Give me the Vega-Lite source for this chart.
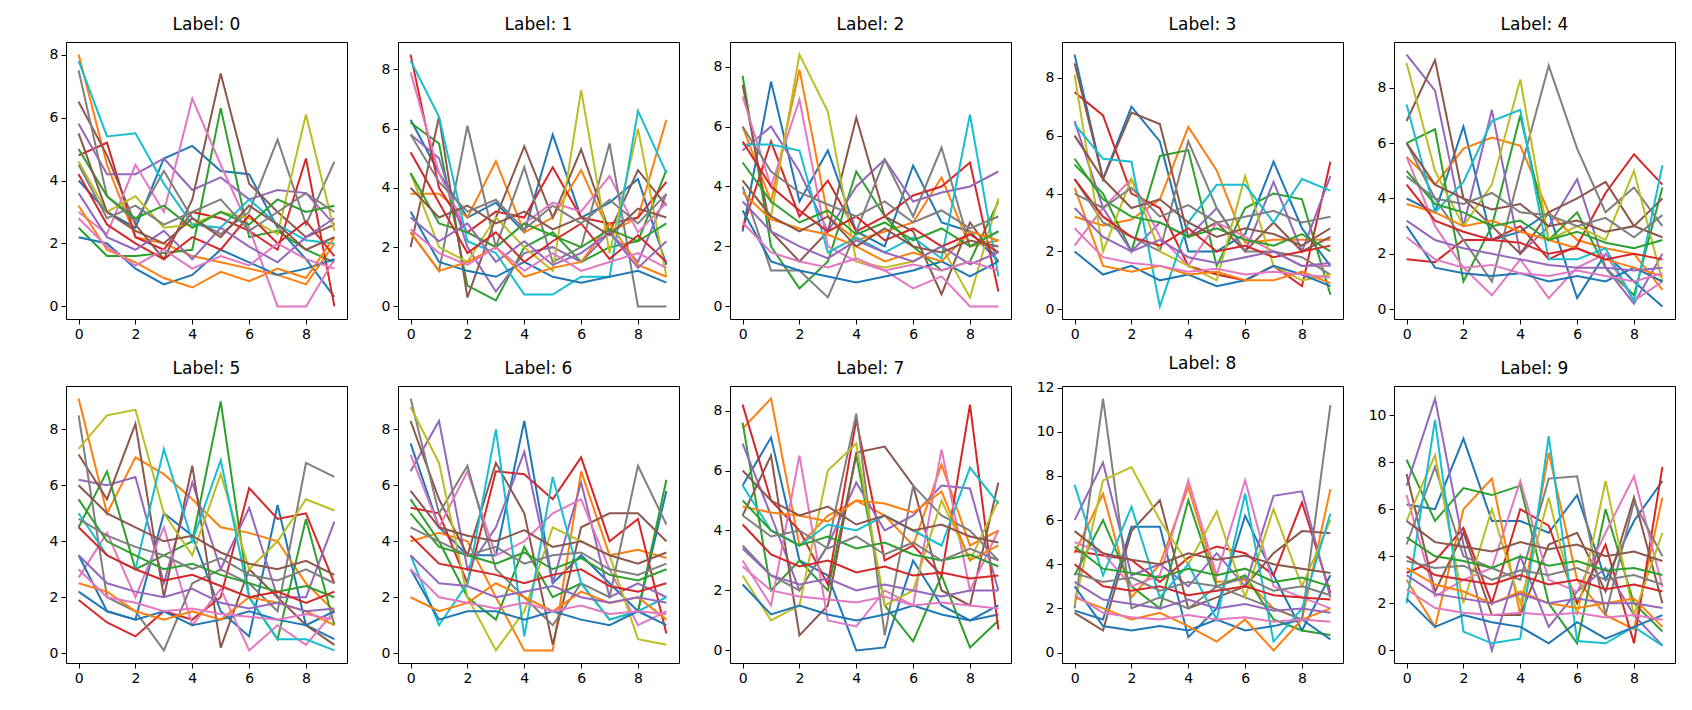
{
  "$schema": "https://vega.github.io/schema/vega-lite/v6.json",
  "background": "white",
  "padding": {"left": 48, "top": 15, "right": 5, "bottom": 5},
  "data": {"values": [
{"p":0,"s":0,"x":0,"y":4.0},{"p":0,"s":0,"x":1,"y":3.0},{"p":0,"s":0,"x":2,"y":2.5},{"p":0,"s":0,"x":3,"y":4.7},{"p":0,"s":0,"x":4,"y":5.1},{"p":0,"s":0,"x":5,"y":4.3},{"p":0,"s":0,"x":6,"y":4.2},{"p":0,"s":0,"x":7,"y":2.5},{"p":0,"s":0,"x":8,"y":1.5},{"p":0,"s":0,"x":9,"y":0.3},
{"p":0,"s":1,"x":0,"y":8.0},{"p":0,"s":1,"x":1,"y":4.5},{"p":0,"s":1,"x":2,"y":2.2},{"p":0,"s":1,"x":3,"y":2.0},{"p":0,"s":1,"x":4,"y":1.6},{"p":0,"s":1,"x":5,"y":1.4},{"p":0,"s":1,"x":6,"y":1.2},{"p":0,"s":1,"x":7,"y":1.0},{"p":0,"s":1,"x":8,"y":0.7},{"p":0,"s":1,"x":9,"y":2.0},
{"p":0,"s":2,"x":0,"y":2.5},{"p":0,"s":2,"x":1,"y":1.6},{"p":0,"s":2,"x":2,"y":1.6},{"p":0,"s":2,"x":3,"y":1.7},{"p":0,"s":2,"x":4,"y":1.8},{"p":0,"s":2,"x":5,"y":6.3},{"p":0,"s":2,"x":6,"y":2.2},{"p":0,"s":2,"x":7,"y":2.4},{"p":0,"s":2,"x":8,"y":1.8},{"p":0,"s":2,"x":9,"y":1.4},
{"p":0,"s":3,"x":0,"y":4.8},{"p":0,"s":3,"x":1,"y":5.2},{"p":0,"s":3,"x":2,"y":2.2},{"p":0,"s":3,"x":3,"y":1.8},{"p":0,"s":3,"x":4,"y":3.0},{"p":0,"s":3,"x":5,"y":2.8},{"p":0,"s":3,"x":6,"y":2.4},{"p":0,"s":3,"x":7,"y":1.8},{"p":0,"s":3,"x":8,"y":4.7},{"p":0,"s":3,"x":9,"y":0.0},
{"p":0,"s":4,"x":0,"y":5.8},{"p":0,"s":4,"x":1,"y":4.2},{"p":0,"s":4,"x":2,"y":4.2},{"p":0,"s":4,"x":3,"y":4.7},{"p":0,"s":4,"x":4,"y":3.7},{"p":0,"s":4,"x":5,"y":4.1},{"p":0,"s":4,"x":6,"y":3.4},{"p":0,"s":4,"x":7,"y":3.7},{"p":0,"s":4,"x":8,"y":3.6},{"p":0,"s":4,"x":9,"y":2.6},
{"p":0,"s":5,"x":0,"y":6.5},{"p":0,"s":5,"x":1,"y":4.8},{"p":0,"s":5,"x":2,"y":2.6},{"p":0,"s":5,"x":3,"y":1.5},{"p":0,"s":5,"x":4,"y":3.4},{"p":0,"s":5,"x":5,"y":7.4},{"p":0,"s":5,"x":6,"y":3.9},{"p":0,"s":5,"x":7,"y":3.0},{"p":0,"s":5,"x":8,"y":2.2},{"p":0,"s":5,"x":9,"y":2.6},
{"p":0,"s":6,"x":0,"y":3.0},{"p":0,"s":6,"x":1,"y":2.3},{"p":0,"s":6,"x":2,"y":4.5},{"p":0,"s":6,"x":3,"y":3.0},{"p":0,"s":6,"x":4,"y":6.6},{"p":0,"s":6,"x":5,"y":4.5},{"p":0,"s":6,"x":6,"y":2.5},{"p":0,"s":6,"x":7,"y":0.0},{"p":0,"s":6,"x":8,"y":0.0},{"p":0,"s":6,"x":9,"y":1.5},
{"p":0,"s":7,"x":0,"y":7.5},{"p":0,"s":7,"x":1,"y":3.5},{"p":0,"s":7,"x":2,"y":2.7},{"p":0,"s":7,"x":3,"y":4.3},{"p":0,"s":7,"x":4,"y":2.8},{"p":0,"s":7,"x":5,"y":2.3},{"p":0,"s":7,"x":6,"y":3.0},{"p":0,"s":7,"x":7,"y":5.3},{"p":0,"s":7,"x":8,"y":2.6},{"p":0,"s":7,"x":9,"y":4.6},
{"p":0,"s":8,"x":0,"y":4.6},{"p":0,"s":8,"x":1,"y":3.0},{"p":0,"s":8,"x":2,"y":3.5},{"p":0,"s":8,"x":3,"y":2.5},{"p":0,"s":8,"x":4,"y":2.6},{"p":0,"s":8,"x":5,"y":3.0},{"p":0,"s":8,"x":6,"y":2.8},{"p":0,"s":8,"x":7,"y":2.3},{"p":0,"s":8,"x":8,"y":6.1},{"p":0,"s":8,"x":9,"y":2.4},
{"p":0,"s":9,"x":0,"y":7.8},{"p":0,"s":9,"x":1,"y":5.4},{"p":0,"s":9,"x":2,"y":5.5},{"p":0,"s":9,"x":3,"y":3.9},{"p":0,"s":9,"x":4,"y":2.6},{"p":0,"s":9,"x":5,"y":2.5},{"p":0,"s":9,"x":6,"y":3.4},{"p":0,"s":9,"x":7,"y":2.6},{"p":0,"s":9,"x":8,"y":2.1},{"p":0,"s":9,"x":9,"y":2.0},
{"p":0,"s":10,"x":0,"y":2.2},{"p":0,"s":10,"x":1,"y":2.0},{"p":0,"s":10,"x":2,"y":1.2},{"p":0,"s":10,"x":3,"y":0.7},{"p":0,"s":10,"x":4,"y":1.0},{"p":0,"s":10,"x":5,"y":1.8},{"p":0,"s":10,"x":6,"y":1.4},{"p":0,"s":10,"x":7,"y":1.0},{"p":0,"s":10,"x":8,"y":1.2},{"p":0,"s":10,"x":9,"y":1.5},
{"p":0,"s":11,"x":0,"y":3.2},{"p":0,"s":11,"x":1,"y":1.8},{"p":0,"s":11,"x":2,"y":1.4},{"p":0,"s":11,"x":3,"y":0.9},{"p":0,"s":11,"x":4,"y":0.6},{"p":0,"s":11,"x":5,"y":1.1},{"p":0,"s":11,"x":6,"y":0.8},{"p":0,"s":11,"x":7,"y":1.2},{"p":0,"s":11,"x":8,"y":0.9},{"p":0,"s":11,"x":9,"y":2.2},
{"p":0,"s":12,"x":0,"y":5.0},{"p":0,"s":12,"x":1,"y":3.5},{"p":0,"s":12,"x":2,"y":2.8},{"p":0,"s":12,"x":3,"y":3.2},{"p":0,"s":12,"x":4,"y":2.5},{"p":0,"s":12,"x":5,"y":3.0},{"p":0,"s":12,"x":6,"y":2.6},{"p":0,"s":12,"x":7,"y":3.4},{"p":0,"s":12,"x":8,"y":3.0},{"p":0,"s":12,"x":9,"y":3.2},
{"p":0,"s":13,"x":0,"y":4.2},{"p":0,"s":13,"x":1,"y":2.6},{"p":0,"s":13,"x":2,"y":2.0},{"p":0,"s":13,"x":3,"y":1.5},{"p":0,"s":13,"x":4,"y":2.2},{"p":0,"s":13,"x":5,"y":1.8},{"p":0,"s":13,"x":6,"y":2.9},{"p":0,"s":13,"x":7,"y":2.0},{"p":0,"s":13,"x":8,"y":2.7},{"p":0,"s":13,"x":9,"y":1.6},
{"p":0,"s":14,"x":0,"y":3.6},{"p":0,"s":14,"x":1,"y":2.2},{"p":0,"s":14,"x":2,"y":1.8},{"p":0,"s":14,"x":3,"y":2.4},{"p":0,"s":14,"x":4,"y":1.5},{"p":0,"s":14,"x":5,"y":2.5},{"p":0,"s":14,"x":6,"y":1.9},{"p":0,"s":14,"x":7,"y":1.4},{"p":0,"s":14,"x":8,"y":2.2},{"p":0,"s":14,"x":9,"y":2.8},
{"p":0,"s":15,"x":0,"y":5.5},{"p":0,"s":15,"x":1,"y":3.0},{"p":0,"s":15,"x":2,"y":2.4},{"p":0,"s":15,"x":3,"y":2.0},{"p":0,"s":15,"x":4,"y":2.8},{"p":0,"s":15,"x":5,"y":2.2},{"p":0,"s":15,"x":6,"y":3.2},{"p":0,"s":15,"x":7,"y":2.6},{"p":0,"s":15,"x":8,"y":1.8},{"p":0,"s":15,"x":9,"y":2.2},
{"p":0,"s":16,"x":0,"y":2.8},{"p":0,"s":16,"x":1,"y":1.9},{"p":0,"s":16,"x":2,"y":1.3},{"p":0,"s":16,"x":3,"y":1.8},{"p":0,"s":16,"x":4,"y":1.2},{"p":0,"s":16,"x":5,"y":1.6},{"p":0,"s":16,"x":6,"y":1.3},{"p":0,"s":16,"x":7,"y":2.0},{"p":0,"s":16,"x":8,"y":1.5},{"p":0,"s":16,"x":9,"y":1.2},
{"p":0,"s":17,"x":0,"y":4.5},{"p":0,"s":17,"x":1,"y":2.8},{"p":0,"s":17,"x":2,"y":3.2},{"p":0,"s":17,"x":3,"y":2.6},{"p":0,"s":17,"x":4,"y":3.0},{"p":0,"s":17,"x":5,"y":3.4},{"p":0,"s":17,"x":6,"y":2.4},{"p":0,"s":17,"x":7,"y":3.0},{"p":0,"s":17,"x":8,"y":3.6},{"p":0,"s":17,"x":9,"y":3.0},
{"p":1,"s":0,"x":0,"y":6.3},{"p":1,"s":0,"x":1,"y":4.5},{"p":1,"s":0,"x":2,"y":3.0},{"p":1,"s":0,"x":3,"y":3.5},{"p":1,"s":0,"x":4,"y":2.5},{"p":1,"s":0,"x":5,"y":5.8},{"p":1,"s":0,"x":6,"y":3.0},{"p":1,"s":0,"x":7,"y":3.5},{"p":1,"s":0,"x":8,"y":4.3},{"p":1,"s":0,"x":9,"y":1.4},
{"p":1,"s":1,"x":0,"y":3.8},{"p":1,"s":1,"x":1,"y":3.8},{"p":1,"s":1,"x":2,"y":3.0},{"p":1,"s":1,"x":3,"y":4.9},{"p":1,"s":1,"x":4,"y":2.5},{"p":1,"s":1,"x":5,"y":3.0},{"p":1,"s":1,"x":6,"y":4.6},{"p":1,"s":1,"x":7,"y":2.5},{"p":1,"s":1,"x":8,"y":3.0},{"p":1,"s":1,"x":9,"y":6.3},
{"p":1,"s":2,"x":0,"y":6.2},{"p":1,"s":2,"x":1,"y":5.5},{"p":1,"s":2,"x":2,"y":0.7},{"p":1,"s":2,"x":3,"y":0.2},{"p":1,"s":2,"x":4,"y":2.0},{"p":1,"s":2,"x":5,"y":2.5},{"p":1,"s":2,"x":6,"y":1.5},{"p":1,"s":2,"x":7,"y":2.0},{"p":1,"s":2,"x":8,"y":2.2},{"p":1,"s":2,"x":9,"y":4.6},
{"p":1,"s":3,"x":0,"y":8.5},{"p":1,"s":3,"x":1,"y":4.0},{"p":1,"s":3,"x":2,"y":2.5},{"p":1,"s":3,"x":3,"y":3.2},{"p":1,"s":3,"x":4,"y":3.0},{"p":1,"s":3,"x":5,"y":4.7},{"p":1,"s":3,"x":6,"y":3.0},{"p":1,"s":3,"x":7,"y":2.8},{"p":1,"s":3,"x":8,"y":3.0},{"p":1,"s":3,"x":9,"y":4.2},
{"p":1,"s":4,"x":0,"y":5.8},{"p":1,"s":4,"x":1,"y":5.0},{"p":1,"s":4,"x":2,"y":2.0},{"p":1,"s":4,"x":3,"y":0.5},{"p":1,"s":4,"x":4,"y":1.8},{"p":1,"s":4,"x":5,"y":2.0},{"p":1,"s":4,"x":6,"y":1.5},{"p":1,"s":4,"x":7,"y":2.5},{"p":1,"s":4,"x":8,"y":1.5},{"p":1,"s":4,"x":9,"y":3.8},
{"p":1,"s":5,"x":0,"y":2.0},{"p":1,"s":5,"x":1,"y":6.4},{"p":1,"s":5,"x":2,"y":0.3},{"p":1,"s":5,"x":3,"y":3.0},{"p":1,"s":5,"x":4,"y":5.4},{"p":1,"s":5,"x":5,"y":3.0},{"p":1,"s":5,"x":6,"y":5.3},{"p":1,"s":5,"x":7,"y":2.5},{"p":1,"s":5,"x":8,"y":4.6},{"p":1,"s":5,"x":9,"y":3.4},
{"p":1,"s":6,"x":0,"y":7.9},{"p":1,"s":6,"x":1,"y":4.5},{"p":1,"s":6,"x":2,"y":2.5},{"p":1,"s":6,"x":3,"y":2.0},{"p":1,"s":6,"x":4,"y":2.8},{"p":1,"s":6,"x":5,"y":3.5},{"p":1,"s":6,"x":6,"y":3.2},{"p":1,"s":6,"x":7,"y":4.4},{"p":1,"s":6,"x":8,"y":2.5},{"p":1,"s":6,"x":9,"y":3.5},
{"p":1,"s":7,"x":0,"y":2.5},{"p":1,"s":7,"x":1,"y":1.2},{"p":1,"s":7,"x":2,"y":6.1},{"p":1,"s":7,"x":3,"y":2.0},{"p":1,"s":7,"x":4,"y":4.7},{"p":1,"s":7,"x":5,"y":1.5},{"p":1,"s":7,"x":6,"y":2.0},{"p":1,"s":7,"x":7,"y":5.5},{"p":1,"s":7,"x":8,"y":0.0},{"p":1,"s":7,"x":9,"y":0.0},
{"p":1,"s":8,"x":0,"y":4.5},{"p":1,"s":8,"x":1,"y":2.0},{"p":1,"s":8,"x":2,"y":1.5},{"p":1,"s":8,"x":3,"y":3.0},{"p":1,"s":8,"x":4,"y":2.0},{"p":1,"s":8,"x":5,"y":1.2},{"p":1,"s":8,"x":6,"y":7.3},{"p":1,"s":8,"x":7,"y":1.8},{"p":1,"s":8,"x":8,"y":6.0},{"p":1,"s":8,"x":9,"y":1.0},
{"p":1,"s":9,"x":0,"y":8.3},{"p":1,"s":9,"x":1,"y":6.4},{"p":1,"s":9,"x":2,"y":2.2},{"p":1,"s":9,"x":3,"y":1.8},{"p":1,"s":9,"x":4,"y":0.4},{"p":1,"s":9,"x":5,"y":0.4},{"p":1,"s":9,"x":6,"y":1.0},{"p":1,"s":9,"x":7,"y":1.0},{"p":1,"s":9,"x":8,"y":6.6},{"p":1,"s":9,"x":9,"y":4.5},
{"p":1,"s":10,"x":0,"y":3.2},{"p":1,"s":10,"x":1,"y":1.5},{"p":1,"s":10,"x":2,"y":1.2},{"p":1,"s":10,"x":3,"y":1.0},{"p":1,"s":10,"x":4,"y":1.5},{"p":1,"s":10,"x":5,"y":1.0},{"p":1,"s":10,"x":6,"y":0.8},{"p":1,"s":10,"x":7,"y":1.0},{"p":1,"s":10,"x":8,"y":1.2},{"p":1,"s":10,"x":9,"y":0.8},
{"p":1,"s":11,"x":0,"y":2.5},{"p":1,"s":11,"x":1,"y":1.2},{"p":1,"s":11,"x":2,"y":1.5},{"p":1,"s":11,"x":3,"y":2.0},{"p":1,"s":11,"x":4,"y":1.0},{"p":1,"s":11,"x":5,"y":1.3},{"p":1,"s":11,"x":6,"y":1.5},{"p":1,"s":11,"x":7,"y":2.8},{"p":1,"s":11,"x":8,"y":1.4},{"p":1,"s":11,"x":9,"y":1.0},
{"p":1,"s":12,"x":0,"y":4.5},{"p":1,"s":12,"x":1,"y":2.8},{"p":1,"s":12,"x":2,"y":2.5},{"p":1,"s":12,"x":3,"y":2.0},{"p":1,"s":12,"x":4,"y":2.8},{"p":1,"s":12,"x":5,"y":2.4},{"p":1,"s":12,"x":6,"y":2.0},{"p":1,"s":12,"x":7,"y":2.6},{"p":1,"s":12,"x":8,"y":2.2},{"p":1,"s":12,"x":9,"y":2.8},
{"p":1,"s":13,"x":0,"y":5.2},{"p":1,"s":13,"x":1,"y":3.5},{"p":1,"s":13,"x":2,"y":1.8},{"p":1,"s":13,"x":3,"y":2.5},{"p":1,"s":13,"x":4,"y":1.5},{"p":1,"s":13,"x":5,"y":2.2},{"p":1,"s":13,"x":6,"y":2.8},{"p":1,"s":13,"x":7,"y":1.6},{"p":1,"s":13,"x":8,"y":2.4},{"p":1,"s":13,"x":9,"y":1.5},
{"p":1,"s":14,"x":0,"y":3.0},{"p":1,"s":14,"x":1,"y":2.2},{"p":1,"s":14,"x":2,"y":2.8},{"p":1,"s":14,"x":3,"y":1.5},{"p":1,"s":14,"x":4,"y":2.2},{"p":1,"s":14,"x":5,"y":1.4},{"p":1,"s":14,"x":6,"y":1.8},{"p":1,"s":14,"x":7,"y":2.5},{"p":1,"s":14,"x":8,"y":1.3},{"p":1,"s":14,"x":9,"y":2.2},
{"p":1,"s":15,"x":0,"y":4.0},{"p":1,"s":15,"x":1,"y":3.0},{"p":1,"s":15,"x":2,"y":3.4},{"p":1,"s":15,"x":3,"y":2.8},{"p":1,"s":15,"x":4,"y":3.2},{"p":1,"s":15,"x":5,"y":2.6},{"p":1,"s":15,"x":6,"y":3.0},{"p":1,"s":15,"x":7,"y":2.4},{"p":1,"s":15,"x":8,"y":3.3},{"p":1,"s":15,"x":9,"y":3.0},
{"p":1,"s":16,"x":0,"y":2.6},{"p":1,"s":16,"x":1,"y":1.8},{"p":1,"s":16,"x":2,"y":1.4},{"p":1,"s":16,"x":3,"y":2.0},{"p":1,"s":16,"x":4,"y":1.2},{"p":1,"s":16,"x":5,"y":1.8},{"p":1,"s":16,"x":6,"y":1.2},{"p":1,"s":16,"x":7,"y":1.5},{"p":1,"s":16,"x":8,"y":1.8},{"p":1,"s":16,"x":9,"y":1.3},
{"p":1,"s":17,"x":0,"y":5.8},{"p":1,"s":17,"x":1,"y":4.2},{"p":1,"s":17,"x":2,"y":3.2},{"p":1,"s":17,"x":3,"y":3.6},{"p":1,"s":17,"x":4,"y":2.6},{"p":1,"s":17,"x":5,"y":3.4},{"p":1,"s":17,"x":6,"y":2.8},{"p":1,"s":17,"x":7,"y":3.6},{"p":1,"s":17,"x":8,"y":2.8},{"p":1,"s":17,"x":9,"y":3.8},
{"p":2,"s":0,"x":0,"y":2.5},{"p":2,"s":0,"x":1,"y":7.5},{"p":2,"s":0,"x":2,"y":3.5},{"p":2,"s":0,"x":3,"y":5.2},{"p":2,"s":0,"x":4,"y":2.5},{"p":2,"s":0,"x":5,"y":2.0},{"p":2,"s":0,"x":6,"y":4.7},{"p":2,"s":0,"x":7,"y":2.8},{"p":2,"s":0,"x":8,"y":2.5},{"p":2,"s":0,"x":9,"y":1.5},
{"p":2,"s":1,"x":0,"y":6.0},{"p":2,"s":1,"x":1,"y":3.5},{"p":2,"s":1,"x":2,"y":7.9},{"p":2,"s":1,"x":3,"y":3.0},{"p":2,"s":1,"x":4,"y":2.2},{"p":2,"s":1,"x":5,"y":2.5},{"p":2,"s":1,"x":6,"y":2.8},{"p":2,"s":1,"x":7,"y":4.3},{"p":2,"s":1,"x":8,"y":2.0},{"p":2,"s":1,"x":9,"y":2.2},
{"p":2,"s":2,"x":0,"y":7.7},{"p":2,"s":2,"x":1,"y":2.0},{"p":2,"s":2,"x":2,"y":0.6},{"p":2,"s":2,"x":3,"y":1.5},{"p":2,"s":2,"x":4,"y":4.5},{"p":2,"s":2,"x":5,"y":3.0},{"p":2,"s":2,"x":6,"y":2.0},{"p":2,"s":2,"x":7,"y":1.2},{"p":2,"s":2,"x":8,"y":1.5},{"p":2,"s":2,"x":9,"y":3.5},
{"p":2,"s":3,"x":0,"y":2.6},{"p":2,"s":3,"x":1,"y":5.5},{"p":2,"s":3,"x":2,"y":3.0},{"p":2,"s":3,"x":3,"y":4.2},{"p":2,"s":3,"x":4,"y":2.5},{"p":2,"s":3,"x":5,"y":3.0},{"p":2,"s":3,"x":6,"y":3.7},{"p":2,"s":3,"x":7,"y":4.0},{"p":2,"s":3,"x":8,"y":4.8},{"p":2,"s":3,"x":9,"y":0.5},
{"p":2,"s":4,"x":0,"y":5.2},{"p":2,"s":4,"x":1,"y":6.0},{"p":2,"s":4,"x":2,"y":4.5},{"p":2,"s":4,"x":3,"y":2.5},{"p":2,"s":4,"x":4,"y":4.0},{"p":2,"s":4,"x":5,"y":4.9},{"p":2,"s":4,"x":6,"y":3.5},{"p":2,"s":4,"x":7,"y":3.8},{"p":2,"s":4,"x":8,"y":4.0},{"p":2,"s":4,"x":9,"y":4.5},
{"p":2,"s":5,"x":0,"y":7.4},{"p":2,"s":5,"x":1,"y":2.5},{"p":2,"s":5,"x":2,"y":1.5},{"p":2,"s":5,"x":3,"y":2.5},{"p":2,"s":5,"x":4,"y":6.3},{"p":2,"s":5,"x":5,"y":3.0},{"p":2,"s":5,"x":6,"y":2.5},{"p":2,"s":5,"x":7,"y":0.4},{"p":2,"s":5,"x":8,"y":2.8},{"p":2,"s":5,"x":9,"y":1.5},
{"p":2,"s":6,"x":0,"y":7.0},{"p":2,"s":6,"x":1,"y":4.0},{"p":2,"s":6,"x":2,"y":6.9},{"p":2,"s":6,"x":3,"y":2.0},{"p":2,"s":6,"x":4,"y":1.5},{"p":2,"s":6,"x":5,"y":1.2},{"p":2,"s":6,"x":6,"y":0.6},{"p":2,"s":6,"x":7,"y":1.0},{"p":2,"s":6,"x":8,"y":0.0},{"p":2,"s":6,"x":9,"y":0.0},
{"p":2,"s":7,"x":0,"y":4.0},{"p":2,"s":7,"x":1,"y":1.2},{"p":2,"s":7,"x":2,"y":1.2},{"p":2,"s":7,"x":3,"y":0.3},{"p":2,"s":7,"x":4,"y":2.5},{"p":2,"s":7,"x":5,"y":4.9},{"p":2,"s":7,"x":6,"y":3.0},{"p":2,"s":7,"x":7,"y":5.3},{"p":2,"s":7,"x":8,"y":2.0},{"p":2,"s":7,"x":9,"y":2.5},
{"p":2,"s":8,"x":0,"y":4.2},{"p":2,"s":8,"x":1,"y":3.0},{"p":2,"s":8,"x":2,"y":8.4},{"p":2,"s":8,"x":3,"y":6.5},{"p":2,"s":8,"x":4,"y":1.5},{"p":2,"s":8,"x":5,"y":1.3},{"p":2,"s":8,"x":6,"y":1.5},{"p":2,"s":8,"x":7,"y":2.0},{"p":2,"s":8,"x":8,"y":0.3},{"p":2,"s":8,"x":9,"y":3.6},
{"p":2,"s":9,"x":0,"y":5.4},{"p":2,"s":9,"x":1,"y":5.4},{"p":2,"s":9,"x":2,"y":5.2},{"p":2,"s":9,"x":3,"y":1.8},{"p":2,"s":9,"x":4,"y":2.3},{"p":2,"s":9,"x":5,"y":1.8},{"p":2,"s":9,"x":6,"y":2.3},{"p":2,"s":9,"x":7,"y":1.6},{"p":2,"s":9,"x":8,"y":6.4},{"p":2,"s":9,"x":9,"y":1.0},
{"p":2,"s":10,"x":0,"y":3.2},{"p":2,"s":10,"x":1,"y":1.5},{"p":2,"s":10,"x":2,"y":1.2},{"p":2,"s":10,"x":3,"y":1.0},{"p":2,"s":10,"x":4,"y":0.8},{"p":2,"s":10,"x":5,"y":1.0},{"p":2,"s":10,"x":6,"y":1.2},{"p":2,"s":10,"x":7,"y":1.5},{"p":2,"s":10,"x":8,"y":1.0},{"p":2,"s":10,"x":9,"y":1.5},
{"p":2,"s":11,"x":0,"y":3.8},{"p":2,"s":11,"x":1,"y":2.9},{"p":2,"s":11,"x":2,"y":2.6},{"p":2,"s":11,"x":3,"y":2.4},{"p":2,"s":11,"x":4,"y":2.0},{"p":2,"s":11,"x":5,"y":1.5},{"p":2,"s":11,"x":6,"y":1.8},{"p":2,"s":11,"x":7,"y":1.5},{"p":2,"s":11,"x":8,"y":2.5},{"p":2,"s":11,"x":9,"y":2.2},
{"p":2,"s":12,"x":0,"y":4.8},{"p":2,"s":12,"x":1,"y":3.5},{"p":2,"s":12,"x":2,"y":2.8},{"p":2,"s":12,"x":3,"y":3.2},{"p":2,"s":12,"x":4,"y":2.4},{"p":2,"s":12,"x":5,"y":2.8},{"p":2,"s":12,"x":6,"y":2.2},{"p":2,"s":12,"x":7,"y":2.6},{"p":2,"s":12,"x":8,"y":2.0},{"p":2,"s":12,"x":9,"y":2.5},
{"p":2,"s":13,"x":0,"y":5.5},{"p":2,"s":13,"x":1,"y":4.0},{"p":2,"s":13,"x":2,"y":3.2},{"p":2,"s":13,"x":3,"y":2.5},{"p":2,"s":13,"x":4,"y":3.0},{"p":2,"s":13,"x":5,"y":2.2},{"p":2,"s":13,"x":6,"y":2.6},{"p":2,"s":13,"x":7,"y":2.0},{"p":2,"s":13,"x":8,"y":2.4},{"p":2,"s":13,"x":9,"y":1.8},
{"p":2,"s":14,"x":0,"y":3.5},{"p":2,"s":14,"x":1,"y":2.5},{"p":2,"s":14,"x":2,"y":2.0},{"p":2,"s":14,"x":3,"y":1.6},{"p":2,"s":14,"x":4,"y":2.2},{"p":2,"s":14,"x":5,"y":1.8},{"p":2,"s":14,"x":6,"y":1.5},{"p":2,"s":14,"x":7,"y":2.0},{"p":2,"s":14,"x":8,"y":1.4},{"p":2,"s":14,"x":9,"y":1.8},
{"p":2,"s":15,"x":0,"y":4.2},{"p":2,"s":15,"x":1,"y":3.0},{"p":2,"s":15,"x":2,"y":2.5},{"p":2,"s":15,"x":3,"y":3.0},{"p":2,"s":15,"x":4,"y":2.0},{"p":2,"s":15,"x":5,"y":2.6},{"p":2,"s":15,"x":6,"y":2.0},{"p":2,"s":15,"x":7,"y":1.8},{"p":2,"s":15,"x":8,"y":2.2},{"p":2,"s":15,"x":9,"y":2.0},
{"p":2,"s":16,"x":0,"y":2.8},{"p":2,"s":16,"x":1,"y":1.8},{"p":2,"s":16,"x":2,"y":1.5},{"p":2,"s":16,"x":3,"y":1.3},{"p":2,"s":16,"x":4,"y":1.6},{"p":2,"s":16,"x":5,"y":1.2},{"p":2,"s":16,"x":6,"y":1.4},{"p":2,"s":16,"x":7,"y":1.2},{"p":2,"s":16,"x":8,"y":1.5},{"p":2,"s":16,"x":9,"y":1.2},
{"p":2,"s":17,"x":0,"y":6.0},{"p":2,"s":17,"x":1,"y":4.5},{"p":2,"s":17,"x":2,"y":3.8},{"p":2,"s":17,"x":3,"y":3.4},{"p":2,"s":17,"x":4,"y":3.0},{"p":2,"s":17,"x":5,"y":3.5},{"p":2,"s":17,"x":6,"y":2.8},{"p":2,"s":17,"x":7,"y":3.2},{"p":2,"s":17,"x":8,"y":2.6},{"p":2,"s":17,"x":9,"y":3.0},
{"p":3,"s":0,"x":0,"y":8.8},{"p":3,"s":0,"x":1,"y":4.5},{"p":3,"s":0,"x":2,"y":7.0},{"p":3,"s":0,"x":3,"y":5.8},{"p":3,"s":0,"x":4,"y":2.0},{"p":3,"s":0,"x":5,"y":2.0},{"p":3,"s":0,"x":6,"y":2.6},{"p":3,"s":0,"x":7,"y":5.1},{"p":3,"s":0,"x":8,"y":2.8},{"p":3,"s":0,"x":9,"y":1.5},
{"p":3,"s":1,"x":0,"y":3.2},{"p":3,"s":1,"x":1,"y":2.9},{"p":3,"s":1,"x":2,"y":3.1},{"p":3,"s":1,"x":3,"y":3.8},{"p":3,"s":1,"x":4,"y":6.3},{"p":3,"s":1,"x":5,"y":4.8},{"p":3,"s":1,"x":6,"y":2.3},{"p":3,"s":1,"x":7,"y":2.4},{"p":3,"s":1,"x":8,"y":2.4},{"p":3,"s":1,"x":9,"y":2.4},
{"p":3,"s":2,"x":0,"y":5.0},{"p":3,"s":2,"x":1,"y":4.0},{"p":3,"s":2,"x":2,"y":2.0},{"p":3,"s":2,"x":3,"y":5.3},{"p":3,"s":2,"x":4,"y":5.5},{"p":3,"s":2,"x":5,"y":1.5},{"p":3,"s":2,"x":6,"y":3.5},{"p":3,"s":2,"x":7,"y":4.0},{"p":3,"s":2,"x":8,"y":3.8},{"p":3,"s":2,"x":9,"y":0.5},
{"p":3,"s":3,"x":0,"y":7.5},{"p":3,"s":3,"x":1,"y":6.7},{"p":3,"s":3,"x":2,"y":4.0},{"p":3,"s":3,"x":3,"y":3.5},{"p":3,"s":3,"x":4,"y":1.5},{"p":3,"s":3,"x":5,"y":1.2},{"p":3,"s":3,"x":6,"y":1.0},{"p":3,"s":3,"x":7,"y":1.5},{"p":3,"s":3,"x":8,"y":0.8},{"p":3,"s":3,"x":9,"y":5.1},
{"p":3,"s":4,"x":0,"y":6.5},{"p":3,"s":4,"x":1,"y":3.5},{"p":3,"s":4,"x":2,"y":2.0},{"p":3,"s":4,"x":3,"y":3.0},{"p":3,"s":4,"x":4,"y":2.5},{"p":3,"s":4,"x":5,"y":3.5},{"p":3,"s":4,"x":6,"y":2.0},{"p":3,"s":4,"x":7,"y":4.4},{"p":3,"s":4,"x":8,"y":2.0},{"p":3,"s":4,"x":9,"y":4.6},
{"p":3,"s":5,"x":0,"y":8.5},{"p":3,"s":5,"x":1,"y":4.5},{"p":3,"s":5,"x":2,"y":6.8},{"p":3,"s":5,"x":3,"y":6.4},{"p":3,"s":5,"x":4,"y":2.5},{"p":3,"s":5,"x":5,"y":3.0},{"p":3,"s":5,"x":6,"y":2.0},{"p":3,"s":5,"x":7,"y":3.0},{"p":3,"s":5,"x":8,"y":2.0},{"p":3,"s":5,"x":9,"y":2.5},
{"p":3,"s":6,"x":0,"y":2.2},{"p":3,"s":6,"x":1,"y":3.5},{"p":3,"s":6,"x":2,"y":4.5},{"p":3,"s":6,"x":3,"y":2.5},{"p":3,"s":6,"x":4,"y":1.5},{"p":3,"s":6,"x":5,"y":3.0},{"p":3,"s":6,"x":6,"y":2.5},{"p":3,"s":6,"x":7,"y":2.0},{"p":3,"s":6,"x":8,"y":1.5},{"p":3,"s":6,"x":9,"y":1.5},
{"p":3,"s":7,"x":0,"y":4.5},{"p":3,"s":7,"x":1,"y":3.0},{"p":3,"s":7,"x":2,"y":2.5},{"p":3,"s":7,"x":3,"y":2.0},{"p":3,"s":7,"x":4,"y":5.8},{"p":3,"s":7,"x":5,"y":3.5},{"p":3,"s":7,"x":6,"y":2.0},{"p":3,"s":7,"x":7,"y":2.0},{"p":3,"s":7,"x":8,"y":1.8},{"p":3,"s":7,"x":9,"y":1.2},
{"p":3,"s":8,"x":0,"y":8.1},{"p":3,"s":8,"x":1,"y":2.0},{"p":3,"s":8,"x":2,"y":4.5},{"p":3,"s":8,"x":3,"y":2.0},{"p":3,"s":8,"x":4,"y":1.5},{"p":3,"s":8,"x":5,"y":1.0},{"p":3,"s":8,"x":6,"y":4.6},{"p":3,"s":8,"x":7,"y":1.5},{"p":3,"s":8,"x":8,"y":1.0},{"p":3,"s":8,"x":9,"y":1.2},
{"p":3,"s":9,"x":0,"y":6.4},{"p":3,"s":9,"x":1,"y":5.2},{"p":3,"s":9,"x":2,"y":5.1},{"p":3,"s":9,"x":3,"y":0.1},{"p":3,"s":9,"x":4,"y":3.0},{"p":3,"s":9,"x":5,"y":4.3},{"p":3,"s":9,"x":6,"y":4.3},{"p":3,"s":9,"x":7,"y":3.0},{"p":3,"s":9,"x":8,"y":4.5},{"p":3,"s":9,"x":9,"y":4.1},
{"p":3,"s":10,"x":0,"y":2.0},{"p":3,"s":10,"x":1,"y":1.2},{"p":3,"s":10,"x":2,"y":1.5},{"p":3,"s":10,"x":3,"y":1.0},{"p":3,"s":10,"x":4,"y":1.2},{"p":3,"s":10,"x":5,"y":0.8},{"p":3,"s":10,"x":6,"y":1.0},{"p":3,"s":10,"x":7,"y":1.5},{"p":3,"s":10,"x":8,"y":1.2},{"p":3,"s":10,"x":9,"y":0.8},
{"p":3,"s":11,"x":0,"y":4.2},{"p":3,"s":11,"x":1,"y":1.5},{"p":3,"s":11,"x":2,"y":1.3},{"p":3,"s":11,"x":3,"y":1.5},{"p":3,"s":11,"x":4,"y":1.2},{"p":3,"s":11,"x":5,"y":1.3},{"p":3,"s":11,"x":6,"y":1.0},{"p":3,"s":11,"x":7,"y":1.0},{"p":3,"s":11,"x":8,"y":1.3},{"p":3,"s":11,"x":9,"y":0.9},
{"p":3,"s":12,"x":0,"y":5.2},{"p":3,"s":12,"x":1,"y":3.8},{"p":3,"s":12,"x":2,"y":3.2},{"p":3,"s":12,"x":3,"y":3.0},{"p":3,"s":12,"x":4,"y":2.5},{"p":3,"s":12,"x":5,"y":2.8},{"p":3,"s":12,"x":6,"y":2.4},{"p":3,"s":12,"x":7,"y":2.2},{"p":3,"s":12,"x":8,"y":2.6},{"p":3,"s":12,"x":9,"y":2.0},
{"p":3,"s":13,"x":0,"y":4.5},{"p":3,"s":13,"x":1,"y":3.2},{"p":3,"s":13,"x":2,"y":2.5},{"p":3,"s":13,"x":3,"y":2.2},{"p":3,"s":13,"x":4,"y":2.8},{"p":3,"s":13,"x":5,"y":2.0},{"p":3,"s":13,"x":6,"y":2.2},{"p":3,"s":13,"x":7,"y":1.8},{"p":3,"s":13,"x":8,"y":2.0},{"p":3,"s":13,"x":9,"y":2.2},
{"p":3,"s":14,"x":0,"y":3.5},{"p":3,"s":14,"x":1,"y":2.5},{"p":3,"s":14,"x":2,"y":2.0},{"p":3,"s":14,"x":3,"y":2.4},{"p":3,"s":14,"x":4,"y":1.8},{"p":3,"s":14,"x":5,"y":1.6},{"p":3,"s":14,"x":6,"y":1.8},{"p":3,"s":14,"x":7,"y":2.0},{"p":3,"s":14,"x":8,"y":1.5},{"p":3,"s":14,"x":9,"y":1.6},
{"p":3,"s":15,"x":0,"y":6.0},{"p":3,"s":15,"x":1,"y":4.5},{"p":3,"s":15,"x":2,"y":3.5},{"p":3,"s":15,"x":3,"y":3.8},{"p":3,"s":15,"x":4,"y":3.0},{"p":3,"s":15,"x":5,"y":2.5},{"p":3,"s":15,"x":6,"y":2.8},{"p":3,"s":15,"x":7,"y":2.6},{"p":3,"s":15,"x":8,"y":2.2},{"p":3,"s":15,"x":9,"y":2.8},
{"p":3,"s":16,"x":0,"y":2.8},{"p":3,"s":16,"x":1,"y":1.8},{"p":3,"s":16,"x":2,"y":1.6},{"p":3,"s":16,"x":3,"y":1.5},{"p":3,"s":16,"x":4,"y":1.3},{"p":3,"s":16,"x":5,"y":1.4},{"p":3,"s":16,"x":6,"y":1.2},{"p":3,"s":16,"x":7,"y":1.3},{"p":3,"s":16,"x":8,"y":1.2},{"p":3,"s":16,"x":9,"y":1.1},
{"p":3,"s":17,"x":0,"y":4.0},{"p":3,"s":17,"x":1,"y":3.5},{"p":3,"s":17,"x":2,"y":4.2},{"p":3,"s":17,"x":3,"y":3.2},{"p":3,"s":17,"x":4,"y":3.6},{"p":3,"s":17,"x":5,"y":3.0},{"p":3,"s":17,"x":6,"y":3.2},{"p":3,"s":17,"x":7,"y":3.4},{"p":3,"s":17,"x":8,"y":3.0},{"p":3,"s":17,"x":9,"y":3.2},
{"p":4,"s":0,"x":0,"y":4.0},{"p":4,"s":0,"x":1,"y":3.5},{"p":4,"s":0,"x":2,"y":6.6},{"p":4,"s":0,"x":3,"y":2.5},{"p":4,"s":0,"x":4,"y":2.8},{"p":4,"s":0,"x":5,"y":3.5},{"p":4,"s":0,"x":6,"y":0.4},{"p":4,"s":0,"x":7,"y":2.0},{"p":4,"s":0,"x":8,"y":1.0},{"p":4,"s":0,"x":9,"y":0.1},
{"p":4,"s":1,"x":0,"y":5.5},{"p":4,"s":1,"x":1,"y":4.5},{"p":4,"s":1,"x":2,"y":5.8},{"p":4,"s":1,"x":3,"y":6.2},{"p":4,"s":1,"x":4,"y":5.9},{"p":4,"s":1,"x":5,"y":3.5},{"p":4,"s":1,"x":6,"y":2.5},{"p":4,"s":1,"x":7,"y":2.2},{"p":4,"s":1,"x":8,"y":2.0},{"p":4,"s":1,"x":9,"y":0.7},
{"p":4,"s":2,"x":0,"y":6.0},{"p":4,"s":2,"x":1,"y":6.5},{"p":4,"s":2,"x":2,"y":1.0},{"p":4,"s":2,"x":3,"y":3.0},{"p":4,"s":2,"x":4,"y":7.0},{"p":4,"s":2,"x":5,"y":2.5},{"p":4,"s":2,"x":6,"y":3.5},{"p":4,"s":2,"x":7,"y":1.5},{"p":4,"s":2,"x":8,"y":0.5},{"p":4,"s":2,"x":9,"y":4.4},
{"p":4,"s":3,"x":0,"y":1.8},{"p":4,"s":3,"x":1,"y":1.7},{"p":4,"s":3,"x":2,"y":2.5},{"p":4,"s":3,"x":3,"y":2.5},{"p":4,"s":3,"x":4,"y":3.0},{"p":4,"s":3,"x":5,"y":1.8},{"p":4,"s":3,"x":6,"y":2.3},{"p":4,"s":3,"x":7,"y":4.2},{"p":4,"s":3,"x":8,"y":5.6},{"p":4,"s":3,"x":9,"y":4.5},
{"p":4,"s":4,"x":0,"y":9.2},{"p":4,"s":4,"x":1,"y":7.9},{"p":4,"s":4,"x":2,"y":3.0},{"p":4,"s":4,"x":3,"y":7.2},{"p":4,"s":4,"x":4,"y":2.0},{"p":4,"s":4,"x":5,"y":3.0},{"p":4,"s":4,"x":6,"y":4.7},{"p":4,"s":4,"x":7,"y":1.5},{"p":4,"s":4,"x":8,"y":0.2},{"p":4,"s":4,"x":9,"y":2.0},
{"p":4,"s":5,"x":0,"y":6.8},{"p":4,"s":5,"x":1,"y":9.0},{"p":4,"s":5,"x":2,"y":4.0},{"p":4,"s":5,"x":3,"y":3.0},{"p":4,"s":5,"x":4,"y":2.0},{"p":4,"s":5,"x":5,"y":3.5},{"p":4,"s":5,"x":6,"y":4.0},{"p":4,"s":5,"x":7,"y":4.6},{"p":4,"s":5,"x":8,"y":3.0},{"p":4,"s":5,"x":9,"y":4.0},
{"p":4,"s":6,"x":0,"y":5.5},{"p":4,"s":6,"x":1,"y":3.0},{"p":4,"s":6,"x":2,"y":1.5},{"p":4,"s":6,"x":3,"y":0.5},{"p":4,"s":6,"x":4,"y":1.8},{"p":4,"s":6,"x":5,"y":0.4},{"p":4,"s":6,"x":6,"y":1.5},{"p":4,"s":6,"x":7,"y":2.0},{"p":4,"s":6,"x":8,"y":0.3},{"p":4,"s":6,"x":9,"y":1.0},
{"p":4,"s":7,"x":0,"y":6.0},{"p":4,"s":7,"x":1,"y":4.0},{"p":4,"s":7,"x":2,"y":2.5},{"p":4,"s":7,"x":3,"y":1.0},{"p":4,"s":7,"x":4,"y":5.0},{"p":4,"s":7,"x":5,"y":8.8},{"p":4,"s":7,"x":6,"y":5.8},{"p":4,"s":7,"x":7,"y":3.5},{"p":4,"s":7,"x":8,"y":4.4},{"p":4,"s":7,"x":9,"y":3.0},
{"p":4,"s":8,"x":0,"y":8.9},{"p":4,"s":8,"x":1,"y":5.0},{"p":4,"s":8,"x":2,"y":3.0},{"p":4,"s":8,"x":3,"y":4.5},{"p":4,"s":8,"x":4,"y":8.3},{"p":4,"s":8,"x":5,"y":2.5},{"p":4,"s":8,"x":6,"y":3.0},{"p":4,"s":8,"x":7,"y":2.5},{"p":4,"s":8,"x":8,"y":5.0},{"p":4,"s":8,"x":9,"y":1.0},
{"p":4,"s":9,"x":0,"y":7.4},{"p":4,"s":9,"x":1,"y":3.5},{"p":4,"s":9,"x":2,"y":4.6},{"p":4,"s":9,"x":3,"y":6.8},{"p":4,"s":9,"x":4,"y":7.2},{"p":4,"s":9,"x":5,"y":1.8},{"p":4,"s":9,"x":6,"y":1.8},{"p":4,"s":9,"x":7,"y":2.2},{"p":4,"s":9,"x":8,"y":0.3},{"p":4,"s":9,"x":9,"y":5.2},
{"p":4,"s":10,"x":0,"y":3.0},{"p":4,"s":10,"x":1,"y":1.5},{"p":4,"s":10,"x":2,"y":1.3},{"p":4,"s":10,"x":3,"y":1.2},{"p":4,"s":10,"x":4,"y":1.3},{"p":4,"s":10,"x":5,"y":1.0},{"p":4,"s":10,"x":6,"y":1.2},{"p":4,"s":10,"x":7,"y":1.0},{"p":4,"s":10,"x":8,"y":1.5},{"p":4,"s":10,"x":9,"y":1.0},
{"p":4,"s":11,"x":0,"y":3.8},{"p":4,"s":11,"x":1,"y":3.5},{"p":4,"s":11,"x":2,"y":3.0},{"p":4,"s":11,"x":3,"y":3.2},{"p":4,"s":11,"x":4,"y":2.8},{"p":4,"s":11,"x":5,"y":2.5},{"p":4,"s":11,"x":6,"y":2.2},{"p":4,"s":11,"x":7,"y":1.8},{"p":4,"s":11,"x":8,"y":1.5},{"p":4,"s":11,"x":9,"y":1.2},
{"p":4,"s":12,"x":0,"y":5.0},{"p":4,"s":12,"x":1,"y":3.8},{"p":4,"s":12,"x":2,"y":3.5},{"p":4,"s":12,"x":3,"y":3.0},{"p":4,"s":12,"x":4,"y":3.2},{"p":4,"s":12,"x":5,"y":2.5},{"p":4,"s":12,"x":6,"y":2.8},{"p":4,"s":12,"x":7,"y":2.4},{"p":4,"s":12,"x":8,"y":2.2},{"p":4,"s":12,"x":9,"y":2.5},
{"p":4,"s":13,"x":0,"y":4.5},{"p":4,"s":13,"x":1,"y":3.2},{"p":4,"s":13,"x":2,"y":2.8},{"p":4,"s":13,"x":3,"y":2.5},{"p":4,"s":13,"x":4,"y":2.4},{"p":4,"s":13,"x":5,"y":2.0},{"p":4,"s":13,"x":6,"y":2.2},{"p":4,"s":13,"x":7,"y":1.8},{"p":4,"s":13,"x":8,"y":2.0},{"p":4,"s":13,"x":9,"y":1.8},
{"p":4,"s":14,"x":0,"y":3.2},{"p":4,"s":14,"x":1,"y":2.5},{"p":4,"s":14,"x":2,"y":2.2},{"p":4,"s":14,"x":3,"y":2.0},{"p":4,"s":14,"x":4,"y":1.8},{"p":4,"s":14,"x":5,"y":1.6},{"p":4,"s":14,"x":6,"y":1.5},{"p":4,"s":14,"x":7,"y":1.5},{"p":4,"s":14,"x":8,"y":1.4},{"p":4,"s":14,"x":9,"y":1.5},
{"p":4,"s":15,"x":0,"y":6.0},{"p":4,"s":15,"x":1,"y":4.5},{"p":4,"s":15,"x":2,"y":4.0},{"p":4,"s":15,"x":3,"y":3.6},{"p":4,"s":15,"x":4,"y":3.8},{"p":4,"s":15,"x":5,"y":3.0},{"p":4,"s":15,"x":6,"y":3.2},{"p":4,"s":15,"x":7,"y":2.8},{"p":4,"s":15,"x":8,"y":3.0},{"p":4,"s":15,"x":9,"y":2.6},
{"p":4,"s":16,"x":0,"y":2.6},{"p":4,"s":16,"x":1,"y":1.8},{"p":4,"s":16,"x":2,"y":1.5},{"p":4,"s":16,"x":3,"y":1.6},{"p":4,"s":16,"x":4,"y":1.3},{"p":4,"s":16,"x":5,"y":1.2},{"p":4,"s":16,"x":6,"y":1.4},{"p":4,"s":16,"x":7,"y":1.2},{"p":4,"s":16,"x":8,"y":1.0},{"p":4,"s":16,"x":9,"y":1.3},
{"p":4,"s":17,"x":0,"y":4.8},{"p":4,"s":17,"x":1,"y":4.0},{"p":4,"s":17,"x":2,"y":3.8},{"p":4,"s":17,"x":3,"y":4.2},{"p":4,"s":17,"x":4,"y":3.5},{"p":4,"s":17,"x":5,"y":3.4},{"p":4,"s":17,"x":6,"y":3.0},{"p":4,"s":17,"x":7,"y":3.3},{"p":4,"s":17,"x":8,"y":2.6},{"p":4,"s":17,"x":9,"y":3.4},
{"p":5,"s":0,"x":0,"y":2.2},{"p":5,"s":0,"x":1,"y":1.5},{"p":5,"s":0,"x":2,"y":1.2},{"p":5,"s":0,"x":3,"y":5.0},{"p":5,"s":0,"x":4,"y":4.2},{"p":5,"s":0,"x":5,"y":1.5},{"p":5,"s":0,"x":6,"y":0.6},{"p":5,"s":0,"x":7,"y":5.3},{"p":5,"s":0,"x":8,"y":1.0},{"p":5,"s":0,"x":9,"y":0.5},
{"p":5,"s":1,"x":0,"y":9.1},{"p":5,"s":1,"x":1,"y":5.0},{"p":5,"s":1,"x":2,"y":7.0},{"p":5,"s":1,"x":3,"y":6.4},{"p":5,"s":1,"x":4,"y":5.5},{"p":5,"s":1,"x":5,"y":4.5},{"p":5,"s":1,"x":6,"y":4.3},{"p":5,"s":1,"x":7,"y":4.0},{"p":5,"s":1,"x":8,"y":2.5},{"p":5,"s":1,"x":9,"y":1.5},
{"p":5,"s":2,"x":0,"y":4.5},{"p":5,"s":2,"x":1,"y":6.5},{"p":5,"s":2,"x":2,"y":3.0},{"p":5,"s":2,"x":3,"y":3.5},{"p":5,"s":2,"x":4,"y":4.0},{"p":5,"s":2,"x":5,"y":9.0},{"p":5,"s":2,"x":6,"y":2.0},{"p":5,"s":2,"x":7,"y":0.5},{"p":5,"s":2,"x":8,"y":4.8},{"p":5,"s":2,"x":9,"y":1.0},
{"p":5,"s":3,"x":0,"y":1.9},{"p":5,"s":3,"x":1,"y":1.1},{"p":5,"s":3,"x":2,"y":0.6},{"p":5,"s":3,"x":3,"y":1.5},{"p":5,"s":3,"x":4,"y":1.2},{"p":5,"s":3,"x":5,"y":2.0},{"p":5,"s":3,"x":6,"y":5.9},{"p":5,"s":3,"x":7,"y":4.8},{"p":5,"s":3,"x":8,"y":5.0},{"p":5,"s":3,"x":9,"y":2.5},
{"p":5,"s":4,"x":0,"y":6.2},{"p":5,"s":4,"x":1,"y":6.0},{"p":5,"s":4,"x":2,"y":6.3},{"p":5,"s":4,"x":3,"y":2.5},{"p":5,"s":4,"x":4,"y":6.1},{"p":5,"s":4,"x":5,"y":3.0},{"p":5,"s":4,"x":6,"y":5.2},{"p":5,"s":4,"x":7,"y":2.0},{"p":5,"s":4,"x":8,"y":2.0},{"p":5,"s":4,"x":9,"y":4.7},
{"p":5,"s":5,"x":0,"y":7.1},{"p":5,"s":5,"x":1,"y":5.5},{"p":5,"s":5,"x":2,"y":8.2},{"p":5,"s":5,"x":3,"y":2.0},{"p":5,"s":5,"x":4,"y":6.7},{"p":5,"s":5,"x":5,"y":0.2},{"p":5,"s":5,"x":6,"y":3.0},{"p":5,"s":5,"x":7,"y":2.0},{"p":5,"s":5,"x":8,"y":1.0},{"p":5,"s":5,"x":9,"y":0.3},
{"p":5,"s":6,"x":0,"y":2.7},{"p":5,"s":6,"x":1,"y":4.3},{"p":5,"s":6,"x":2,"y":2.0},{"p":5,"s":6,"x":3,"y":4.5},{"p":5,"s":6,"x":4,"y":1.0},{"p":5,"s":6,"x":5,"y":2.3},{"p":5,"s":6,"x":6,"y":0.1},{"p":5,"s":6,"x":7,"y":1.0},{"p":5,"s":6,"x":8,"y":0.3},{"p":5,"s":6,"x":9,"y":1.5},
{"p":5,"s":7,"x":0,"y":8.5},{"p":5,"s":7,"x":1,"y":2.0},{"p":5,"s":7,"x":2,"y":1.5},{"p":5,"s":7,"x":3,"y":0.1},{"p":5,"s":7,"x":4,"y":2.5},{"p":5,"s":7,"x":5,"y":3.0},{"p":5,"s":7,"x":6,"y":2.5},{"p":5,"s":7,"x":7,"y":1.5},{"p":5,"s":7,"x":8,"y":6.8},{"p":5,"s":7,"x":9,"y":6.3},
{"p":5,"s":8,"x":0,"y":7.3},{"p":5,"s":8,"x":1,"y":8.5},{"p":5,"s":8,"x":2,"y":8.7},{"p":5,"s":8,"x":3,"y":5.0},{"p":5,"s":8,"x":4,"y":3.5},{"p":5,"s":8,"x":5,"y":6.4},{"p":5,"s":8,"x":6,"y":3.0},{"p":5,"s":8,"x":7,"y":4.0},{"p":5,"s":8,"x":8,"y":5.5},{"p":5,"s":8,"x":9,"y":5.1},
{"p":5,"s":9,"x":0,"y":5.0},{"p":5,"s":9,"x":1,"y":3.5},{"p":5,"s":9,"x":2,"y":3.0},{"p":5,"s":9,"x":3,"y":7.3},{"p":5,"s":9,"x":4,"y":4.0},{"p":5,"s":9,"x":5,"y":6.9},{"p":5,"s":9,"x":6,"y":2.0},{"p":5,"s":9,"x":7,"y":0.5},{"p":5,"s":9,"x":8,"y":0.5},{"p":5,"s":9,"x":9,"y":0.1},
{"p":5,"s":10,"x":0,"y":3.5},{"p":5,"s":10,"x":1,"y":1.5},{"p":5,"s":10,"x":2,"y":1.2},{"p":5,"s":10,"x":3,"y":1.5},{"p":5,"s":10,"x":4,"y":1.0},{"p":5,"s":10,"x":5,"y":1.2},{"p":5,"s":10,"x":6,"y":1.5},{"p":5,"s":10,"x":7,"y":1.2},{"p":5,"s":10,"x":8,"y":1.0},{"p":5,"s":10,"x":9,"y":1.5},
{"p":5,"s":11,"x":0,"y":2.5},{"p":5,"s":11,"x":1,"y":2.2},{"p":5,"s":11,"x":2,"y":1.5},{"p":5,"s":11,"x":3,"y":1.2},{"p":5,"s":11,"x":4,"y":1.5},{"p":5,"s":11,"x":5,"y":1.2},{"p":5,"s":11,"x":6,"y":2.0},{"p":5,"s":11,"x":7,"y":1.8},{"p":5,"s":11,"x":8,"y":1.5},{"p":5,"s":11,"x":9,"y":1.0},
{"p":5,"s":12,"x":0,"y":5.5},{"p":5,"s":12,"x":1,"y":4.0},{"p":5,"s":12,"x":2,"y":3.5},{"p":5,"s":12,"x":3,"y":3.0},{"p":5,"s":12,"x":4,"y":3.2},{"p":5,"s":12,"x":5,"y":2.8},{"p":5,"s":12,"x":6,"y":2.5},{"p":5,"s":12,"x":7,"y":2.2},{"p":5,"s":12,"x":8,"y":2.4},{"p":5,"s":12,"x":9,"y":2.0},
{"p":5,"s":13,"x":0,"y":4.5},{"p":5,"s":13,"x":1,"y":3.5},{"p":5,"s":13,"x":2,"y":3.0},{"p":5,"s":13,"x":3,"y":2.6},{"p":5,"s":13,"x":4,"y":2.8},{"p":5,"s":13,"x":5,"y":2.4},{"p":5,"s":13,"x":6,"y":2.0},{"p":5,"s":13,"x":7,"y":2.2},{"p":5,"s":13,"x":8,"y":1.8},{"p":5,"s":13,"x":9,"y":2.2},
{"p":5,"s":14,"x":0,"y":3.5},{"p":5,"s":14,"x":1,"y":2.5},{"p":5,"s":14,"x":2,"y":2.2},{"p":5,"s":14,"x":3,"y":2.0},{"p":5,"s":14,"x":4,"y":2.3},{"p":5,"s":14,"x":5,"y":1.8},{"p":5,"s":14,"x":6,"y":1.6},{"p":5,"s":14,"x":7,"y":1.8},{"p":5,"s":14,"x":8,"y":1.5},{"p":5,"s":14,"x":9,"y":1.6},
{"p":5,"s":15,"x":0,"y":6.0},{"p":5,"s":15,"x":1,"y":5.0},{"p":5,"s":15,"x":2,"y":4.5},{"p":5,"s":15,"x":3,"y":4.0},{"p":5,"s":15,"x":4,"y":4.2},{"p":5,"s":15,"x":5,"y":3.6},{"p":5,"s":15,"x":6,"y":3.2},{"p":5,"s":15,"x":7,"y":3.0},{"p":5,"s":15,"x":8,"y":3.3},{"p":5,"s":15,"x":9,"y":2.8},
{"p":5,"s":16,"x":0,"y":3.0},{"p":5,"s":16,"x":1,"y":2.0},{"p":5,"s":16,"x":2,"y":1.8},{"p":5,"s":16,"x":3,"y":1.5},{"p":5,"s":16,"x":4,"y":1.6},{"p":5,"s":16,"x":5,"y":1.4},{"p":5,"s":16,"x":6,"y":1.3},{"p":5,"s":16,"x":7,"y":1.2},{"p":5,"s":16,"x":8,"y":1.4},{"p":5,"s":16,"x":9,"y":1.2},
{"p":5,"s":17,"x":0,"y":4.8},{"p":5,"s":17,"x":1,"y":4.2},{"p":5,"s":17,"x":2,"y":3.8},{"p":5,"s":17,"x":3,"y":3.5},{"p":5,"s":17,"x":4,"y":3.0},{"p":5,"s":17,"x":5,"y":3.4},{"p":5,"s":17,"x":6,"y":2.8},{"p":5,"s":17,"x":7,"y":2.6},{"p":5,"s":17,"x":8,"y":3.0},{"p":5,"s":17,"x":9,"y":2.5},
{"p":6,"s":0,"x":0,"y":7.5},{"p":6,"s":0,"x":1,"y":4.5},{"p":6,"s":0,"x":2,"y":3.5},{"p":6,"s":0,"x":3,"y":3.5},{"p":6,"s":0,"x":4,"y":8.3},{"p":6,"s":0,"x":5,"y":2.5},{"p":6,"s":0,"x":6,"y":3.5},{"p":6,"s":0,"x":7,"y":2.5},{"p":6,"s":0,"x":8,"y":1.5},{"p":6,"s":0,"x":9,"y":5.8},
{"p":6,"s":1,"x":0,"y":4.0},{"p":6,"s":1,"x":1,"y":4.3},{"p":6,"s":1,"x":2,"y":4.0},{"p":6,"s":1,"x":3,"y":2.0},{"p":6,"s":1,"x":4,"y":0.1},{"p":6,"s":1,"x":5,"y":0.1},{"p":6,"s":1,"x":6,"y":6.5},{"p":6,"s":1,"x":7,"y":3.5},{"p":6,"s":1,"x":8,"y":3.7},{"p":6,"s":1,"x":9,"y":3.4},
{"p":6,"s":2,"x":0,"y":5.5},{"p":6,"s":2,"x":1,"y":4.0},{"p":6,"s":2,"x":2,"y":2.0},{"p":6,"s":2,"x":3,"y":1.2},{"p":6,"s":2,"x":4,"y":3.8},{"p":6,"s":2,"x":5,"y":2.0},{"p":6,"s":2,"x":6,"y":2.5},{"p":6,"s":2,"x":7,"y":1.2},{"p":6,"s":2,"x":8,"y":1.5},{"p":6,"s":2,"x":9,"y":6.2},
{"p":6,"s":3,"x":0,"y":5.2},{"p":6,"s":3,"x":1,"y":5.0},{"p":6,"s":3,"x":2,"y":2.5},{"p":6,"s":3,"x":3,"y":6.5},{"p":6,"s":3,"x":4,"y":6.4},{"p":6,"s":3,"x":5,"y":5.5},{"p":6,"s":3,"x":6,"y":7.0},{"p":6,"s":3,"x":7,"y":4.0},{"p":6,"s":3,"x":8,"y":4.8},{"p":6,"s":3,"x":9,"y":0.7},
{"p":6,"s":4,"x":0,"y":6.5},{"p":6,"s":4,"x":1,"y":8.3},{"p":6,"s":4,"x":2,"y":3.0},{"p":6,"s":4,"x":3,"y":4.5},{"p":6,"s":4,"x":4,"y":7.2},{"p":6,"s":4,"x":5,"y":2.5},{"p":6,"s":4,"x":6,"y":6.1},{"p":6,"s":4,"x":7,"y":2.0},{"p":6,"s":4,"x":8,"y":2.5},{"p":6,"s":4,"x":9,"y":2.0},
{"p":6,"s":5,"x":0,"y":8.3},{"p":6,"s":5,"x":1,"y":5.5},{"p":6,"s":5,"x":2,"y":3.5},{"p":6,"s":5,"x":3,"y":6.8},{"p":6,"s":5,"x":4,"y":5.0},{"p":6,"s":5,"x":5,"y":0.3},{"p":6,"s":5,"x":6,"y":4.5},{"p":6,"s":5,"x":7,"y":5.0},{"p":6,"s":5,"x":8,"y":5.0},{"p":6,"s":5,"x":9,"y":4.0},
{"p":6,"s":6,"x":0,"y":7.1},{"p":6,"s":6,"x":1,"y":4.5},{"p":6,"s":6,"x":2,"y":6.5},{"p":6,"s":6,"x":3,"y":3.5},{"p":6,"s":6,"x":4,"y":4.0},{"p":6,"s":6,"x":5,"y":5.0},{"p":6,"s":6,"x":6,"y":5.5},{"p":6,"s":6,"x":7,"y":3.0},{"p":6,"s":6,"x":8,"y":1.0},{"p":6,"s":6,"x":9,"y":1.5},
{"p":6,"s":7,"x":0,"y":9.1},{"p":6,"s":7,"x":1,"y":5.0},{"p":6,"s":7,"x":2,"y":6.7},{"p":6,"s":7,"x":3,"y":3.0},{"p":6,"s":7,"x":4,"y":2.0},{"p":6,"s":7,"x":5,"y":1.0},{"p":6,"s":7,"x":6,"y":2.5},{"p":6,"s":7,"x":7,"y":2.0},{"p":6,"s":7,"x":8,"y":6.7},{"p":6,"s":7,"x":9,"y":4.6},
{"p":6,"s":8,"x":0,"y":8.8},{"p":6,"s":8,"x":1,"y":6.8},{"p":6,"s":8,"x":2,"y":2.0},{"p":6,"s":8,"x":3,"y":0.1},{"p":6,"s":8,"x":4,"y":1.5},{"p":6,"s":8,"x":5,"y":4.5},{"p":6,"s":8,"x":6,"y":4.0},{"p":6,"s":8,"x":7,"y":3.5},{"p":6,"s":8,"x":8,"y":0.5},{"p":6,"s":8,"x":9,"y":0.3},
{"p":6,"s":9,"x":0,"y":3.5},{"p":6,"s":9,"x":1,"y":1.0},{"p":6,"s":9,"x":2,"y":2.5},{"p":6,"s":9,"x":3,"y":8.0},{"p":6,"s":9,"x":4,"y":0.6},{"p":6,"s":9,"x":5,"y":6.3},{"p":6,"s":9,"x":6,"y":2.5},{"p":6,"s":9,"x":7,"y":1.2},{"p":6,"s":9,"x":8,"y":1.5},{"p":6,"s":9,"x":9,"y":2.0},
{"p":6,"s":10,"x":0,"y":3.0},{"p":6,"s":10,"x":1,"y":1.2},{"p":6,"s":10,"x":2,"y":1.5},{"p":6,"s":10,"x":3,"y":1.5},{"p":6,"s":10,"x":4,"y":1.2},{"p":6,"s":10,"x":5,"y":1.5},{"p":6,"s":10,"x":6,"y":1.2},{"p":6,"s":10,"x":7,"y":1.0},{"p":6,"s":10,"x":8,"y":1.5},{"p":6,"s":10,"x":9,"y":1.0},
{"p":6,"s":11,"x":0,"y":2.0},{"p":6,"s":11,"x":1,"y":1.5},{"p":6,"s":11,"x":2,"y":1.8},{"p":6,"s":11,"x":3,"y":2.5},{"p":6,"s":11,"x":4,"y":2.0},{"p":6,"s":11,"x":5,"y":1.5},{"p":6,"s":11,"x":6,"y":2.2},{"p":6,"s":11,"x":7,"y":1.8},{"p":6,"s":11,"x":8,"y":2.0},{"p":6,"s":11,"x":9,"y":1.2},
{"p":6,"s":12,"x":0,"y":5.0},{"p":6,"s":12,"x":1,"y":3.8},{"p":6,"s":12,"x":2,"y":3.5},{"p":6,"s":12,"x":3,"y":3.2},{"p":6,"s":12,"x":4,"y":3.6},{"p":6,"s":12,"x":5,"y":3.0},{"p":6,"s":12,"x":6,"y":3.4},{"p":6,"s":12,"x":7,"y":2.8},{"p":6,"s":12,"x":8,"y":2.6},{"p":6,"s":12,"x":9,"y":3.0},
{"p":6,"s":13,"x":0,"y":4.2},{"p":6,"s":13,"x":1,"y":3.2},{"p":6,"s":13,"x":2,"y":3.0},{"p":6,"s":13,"x":3,"y":2.8},{"p":6,"s":13,"x":4,"y":2.5},{"p":6,"s":13,"x":5,"y":2.8},{"p":6,"s":13,"x":6,"y":3.0},{"p":6,"s":13,"x":7,"y":2.4},{"p":6,"s":13,"x":8,"y":2.2},{"p":6,"s":13,"x":9,"y":2.5},
{"p":6,"s":14,"x":0,"y":3.5},{"p":6,"s":14,"x":1,"y":2.5},{"p":6,"s":14,"x":2,"y":2.4},{"p":6,"s":14,"x":3,"y":2.0},{"p":6,"s":14,"x":4,"y":2.2},{"p":6,"s":14,"x":5,"y":2.4},{"p":6,"s":14,"x":6,"y":2.0},{"p":6,"s":14,"x":7,"y":1.8},{"p":6,"s":14,"x":8,"y":2.0},{"p":6,"s":14,"x":9,"y":1.8},
{"p":6,"s":15,"x":0,"y":5.8},{"p":6,"s":15,"x":1,"y":4.5},{"p":6,"s":15,"x":2,"y":4.2},{"p":6,"s":15,"x":3,"y":4.0},{"p":6,"s":15,"x":4,"y":4.4},{"p":6,"s":15,"x":5,"y":3.8},{"p":6,"s":15,"x":6,"y":4.0},{"p":6,"s":15,"x":7,"y":3.5},{"p":6,"s":15,"x":8,"y":3.2},{"p":6,"s":15,"x":9,"y":3.6},
{"p":6,"s":16,"x":0,"y":3.0},{"p":6,"s":16,"x":1,"y":2.0},{"p":6,"s":16,"x":2,"y":1.8},{"p":6,"s":16,"x":3,"y":1.6},{"p":6,"s":16,"x":4,"y":1.8},{"p":6,"s":16,"x":5,"y":1.5},{"p":6,"s":16,"x":6,"y":1.7},{"p":6,"s":16,"x":7,"y":1.4},{"p":6,"s":16,"x":8,"y":1.5},{"p":6,"s":16,"x":9,"y":1.4},
{"p":6,"s":17,"x":0,"y":4.5},{"p":6,"s":17,"x":1,"y":4.0},{"p":6,"s":17,"x":2,"y":3.5},{"p":6,"s":17,"x":3,"y":3.8},{"p":6,"s":17,"x":4,"y":3.2},{"p":6,"s":17,"x":5,"y":3.5},{"p":6,"s":17,"x":6,"y":3.6},{"p":6,"s":17,"x":7,"y":3.0},{"p":6,"s":17,"x":8,"y":2.8},{"p":6,"s":17,"x":9,"y":3.2},
{"p":7,"s":0,"x":0,"y":5.5},{"p":7,"s":0,"x":1,"y":7.1},{"p":7,"s":0,"x":2,"y":3.0},{"p":7,"s":0,"x":3,"y":2.5},{"p":7,"s":0,"x":4,"y":0.0},{"p":7,"s":0,"x":5,"y":0.1},{"p":7,"s":0,"x":6,"y":3.0},{"p":7,"s":0,"x":7,"y":1.5},{"p":7,"s":0,"x":8,"y":1.0},{"p":7,"s":0,"x":9,"y":1.2},
{"p":7,"s":1,"x":0,"y":7.4},{"p":7,"s":1,"x":1,"y":8.4},{"p":7,"s":1,"x":2,"y":3.5},{"p":7,"s":1,"x":3,"y":4.5},{"p":7,"s":1,"x":4,"y":5.0},{"p":7,"s":1,"x":5,"y":4.5},{"p":7,"s":1,"x":6,"y":3.5},{"p":7,"s":1,"x":7,"y":6.2},{"p":7,"s":1,"x":8,"y":3.5},{"p":7,"s":1,"x":9,"y":4.0},
{"p":7,"s":2,"x":0,"y":7.6},{"p":7,"s":2,"x":1,"y":2.0},{"p":7,"s":2,"x":2,"y":3.0},{"p":7,"s":2,"x":3,"y":2.0},{"p":7,"s":2,"x":4,"y":6.5},{"p":7,"s":2,"x":5,"y":1.5},{"p":7,"s":2,"x":6,"y":0.3},{"p":7,"s":2,"x":7,"y":2.5},{"p":7,"s":2,"x":8,"y":0.1},{"p":7,"s":2,"x":9,"y":1.0},
{"p":7,"s":3,"x":0,"y":8.2},{"p":7,"s":3,"x":1,"y":5.0},{"p":7,"s":3,"x":2,"y":4.0},{"p":7,"s":3,"x":3,"y":2.2},{"p":7,"s":3,"x":4,"y":7.7},{"p":7,"s":3,"x":5,"y":3.0},{"p":7,"s":3,"x":6,"y":3.5},{"p":7,"s":3,"x":7,"y":2.5},{"p":7,"s":3,"x":8,"y":8.2},{"p":7,"s":3,"x":9,"y":0.7},
{"p":7,"s":4,"x":0,"y":6.9},{"p":7,"s":4,"x":1,"y":4.5},{"p":7,"s":4,"x":2,"y":2.0},{"p":7,"s":4,"x":3,"y":3.5},{"p":7,"s":4,"x":4,"y":5.6},{"p":7,"s":4,"x":5,"y":4.0},{"p":7,"s":4,"x":6,"y":4.5},{"p":7,"s":4,"x":7,"y":5.5},{"p":7,"s":4,"x":8,"y":5.4},{"p":7,"s":4,"x":9,"y":2.0},
{"p":7,"s":5,"x":0,"y":4.5},{"p":7,"s":5,"x":1,"y":6.5},{"p":7,"s":5,"x":2,"y":0.5},{"p":7,"s":5,"x":3,"y":1.5},{"p":7,"s":5,"x":4,"y":6.6},{"p":7,"s":5,"x":5,"y":6.8},{"p":7,"s":5,"x":6,"y":5.5},{"p":7,"s":5,"x":7,"y":2.0},{"p":7,"s":5,"x":8,"y":1.5},{"p":7,"s":5,"x":9,"y":5.6},
{"p":7,"s":6,"x":0,"y":3.0},{"p":7,"s":6,"x":1,"y":1.5},{"p":7,"s":6,"x":2,"y":6.5},{"p":7,"s":6,"x":3,"y":1.0},{"p":7,"s":6,"x":4,"y":0.8},{"p":7,"s":6,"x":5,"y":2.0},{"p":7,"s":6,"x":6,"y":1.5},{"p":7,"s":6,"x":7,"y":6.7},{"p":7,"s":6,"x":8,"y":2.0},{"p":7,"s":6,"x":9,"y":4.0},
{"p":7,"s":7,"x":0,"y":3.5},{"p":7,"s":7,"x":1,"y":2.5},{"p":7,"s":7,"x":2,"y":2.0},{"p":7,"s":7,"x":3,"y":3.5},{"p":7,"s":7,"x":4,"y":7.9},{"p":7,"s":7,"x":5,"y":0.5},{"p":7,"s":7,"x":6,"y":5.5},{"p":7,"s":7,"x":7,"y":4.5},{"p":7,"s":7,"x":8,"y":4.0},{"p":7,"s":7,"x":9,"y":3.0},
{"p":7,"s":8,"x":0,"y":2.5},{"p":7,"s":8,"x":1,"y":1.0},{"p":7,"s":8,"x":2,"y":1.5},{"p":7,"s":8,"x":3,"y":6.0},{"p":7,"s":8,"x":4,"y":6.9},{"p":7,"s":8,"x":5,"y":1.5},{"p":7,"s":8,"x":6,"y":2.0},{"p":7,"s":8,"x":7,"y":5.0},{"p":7,"s":8,"x":8,"y":3.0},{"p":7,"s":8,"x":9,"y":5.0},
{"p":7,"s":9,"x":0,"y":5.5},{"p":7,"s":9,"x":1,"y":4.0},{"p":7,"s":9,"x":2,"y":3.5},{"p":7,"s":9,"x":3,"y":4.2},{"p":7,"s":9,"x":4,"y":4.0},{"p":7,"s":9,"x":5,"y":4.5},{"p":7,"s":9,"x":6,"y":4.0},{"p":7,"s":9,"x":7,"y":3.5},{"p":7,"s":9,"x":8,"y":6.1},{"p":7,"s":9,"x":9,"y":4.9},
{"p":7,"s":10,"x":0,"y":2.2},{"p":7,"s":10,"x":1,"y":1.2},{"p":7,"s":10,"x":2,"y":1.5},{"p":7,"s":10,"x":3,"y":1.2},{"p":7,"s":10,"x":4,"y":1.0},{"p":7,"s":10,"x":5,"y":1.2},{"p":7,"s":10,"x":6,"y":1.5},{"p":7,"s":10,"x":7,"y":1.2},{"p":7,"s":10,"x":8,"y":1.0},{"p":7,"s":10,"x":9,"y":1.5},
{"p":7,"s":11,"x":0,"y":4.8},{"p":7,"s":11,"x":1,"y":4.6},{"p":7,"s":11,"x":2,"y":4.5},{"p":7,"s":11,"x":3,"y":4.3},{"p":7,"s":11,"x":4,"y":5.0},{"p":7,"s":11,"x":5,"y":4.9},{"p":7,"s":11,"x":6,"y":4.6},{"p":7,"s":11,"x":7,"y":5.3},{"p":7,"s":11,"x":8,"y":3.0},{"p":7,"s":11,"x":9,"y":3.5},
{"p":7,"s":12,"x":0,"y":5.0},{"p":7,"s":12,"x":1,"y":4.0},{"p":7,"s":12,"x":2,"y":3.5},{"p":7,"s":12,"x":3,"y":3.8},{"p":7,"s":12,"x":4,"y":3.4},{"p":7,"s":12,"x":5,"y":3.6},{"p":7,"s":12,"x":6,"y":3.2},{"p":7,"s":12,"x":7,"y":3.0},{"p":7,"s":12,"x":8,"y":3.2},{"p":7,"s":12,"x":9,"y":2.8},
{"p":7,"s":13,"x":0,"y":4.2},{"p":7,"s":13,"x":1,"y":3.2},{"p":7,"s":13,"x":2,"y":2.8},{"p":7,"s":13,"x":3,"y":3.0},{"p":7,"s":13,"x":4,"y":2.6},{"p":7,"s":13,"x":5,"y":2.8},{"p":7,"s":13,"x":6,"y":2.5},{"p":7,"s":13,"x":7,"y":2.6},{"p":7,"s":13,"x":8,"y":2.4},{"p":7,"s":13,"x":9,"y":2.5},
{"p":7,"s":14,"x":0,"y":3.4},{"p":7,"s":14,"x":1,"y":2.5},{"p":7,"s":14,"x":2,"y":2.2},{"p":7,"s":14,"x":3,"y":2.4},{"p":7,"s":14,"x":4,"y":2.0},{"p":7,"s":14,"x":5,"y":2.2},{"p":7,"s":14,"x":6,"y":2.0},{"p":7,"s":14,"x":7,"y":1.8},{"p":7,"s":14,"x":8,"y":2.0},{"p":7,"s":14,"x":9,"y":2.0},
{"p":7,"s":15,"x":0,"y":6.0},{"p":7,"s":15,"x":1,"y":5.0},{"p":7,"s":15,"x":2,"y":4.5},{"p":7,"s":15,"x":3,"y":4.8},{"p":7,"s":15,"x":4,"y":4.2},{"p":7,"s":15,"x":5,"y":4.5},{"p":7,"s":15,"x":6,"y":4.0},{"p":7,"s":15,"x":7,"y":4.2},{"p":7,"s":15,"x":8,"y":3.8},{"p":7,"s":15,"x":9,"y":3.6},
{"p":7,"s":16,"x":0,"y":2.8},{"p":7,"s":16,"x":1,"y":2.0},{"p":7,"s":16,"x":2,"y":1.8},{"p":7,"s":16,"x":3,"y":1.7},{"p":7,"s":16,"x":4,"y":1.6},{"p":7,"s":16,"x":5,"y":1.8},{"p":7,"s":16,"x":6,"y":1.5},{"p":7,"s":16,"x":7,"y":1.6},{"p":7,"s":16,"x":8,"y":1.5},{"p":7,"s":16,"x":9,"y":1.4},
{"p":7,"s":17,"x":0,"y":4.5},{"p":7,"s":17,"x":1,"y":3.8},{"p":7,"s":17,"x":2,"y":4.0},{"p":7,"s":17,"x":3,"y":3.4},{"p":7,"s":17,"x":4,"y":3.8},{"p":7,"s":17,"x":5,"y":3.2},{"p":7,"s":17,"x":6,"y":3.6},{"p":7,"s":17,"x":7,"y":3.0},{"p":7,"s":17,"x":8,"y":3.4},{"p":7,"s":17,"x":9,"y":3.0},
{"p":8,"s":0,"x":0,"y":1.9},{"p":8,"s":0,"x":1,"y":1.5},{"p":8,"s":0,"x":2,"y":5.7},{"p":8,"s":0,"x":3,"y":5.7},{"p":8,"s":0,"x":4,"y":0.7},{"p":8,"s":0,"x":5,"y":2.0},{"p":8,"s":0,"x":6,"y":6.2},{"p":8,"s":0,"x":7,"y":3.5},{"p":8,"s":0,"x":8,"y":1.0},{"p":8,"s":0,"x":9,"y":3.5},
{"p":8,"s":1,"x":0,"y":4.5},{"p":8,"s":1,"x":1,"y":7.2},{"p":8,"s":1,"x":2,"y":2.5},{"p":8,"s":1,"x":3,"y":4.0},{"p":8,"s":1,"x":4,"y":7.5},{"p":8,"s":1,"x":5,"y":3.2},{"p":8,"s":1,"x":6,"y":3.3},{"p":8,"s":1,"x":7,"y":2.0},{"p":8,"s":1,"x":8,"y":1.5},{"p":8,"s":1,"x":9,"y":7.4},
{"p":8,"s":2,"x":0,"y":3.5},{"p":8,"s":2,"x":1,"y":6.0},{"p":8,"s":2,"x":2,"y":3.0},{"p":8,"s":2,"x":3,"y":2.0},{"p":8,"s":2,"x":4,"y":6.9},{"p":8,"s":2,"x":5,"y":3.0},{"p":8,"s":2,"x":6,"y":3.5},{"p":8,"s":2,"x":7,"y":1.5},{"p":8,"s":2,"x":8,"y":1.0},{"p":8,"s":2,"x":9,"y":0.8},
{"p":8,"s":3,"x":0,"y":4.6},{"p":8,"s":3,"x":1,"y":4.4},{"p":8,"s":3,"x":2,"y":4.2},{"p":8,"s":3,"x":3,"y":3.2},{"p":8,"s":3,"x":4,"y":4.3},{"p":8,"s":3,"x":5,"y":4.8},{"p":8,"s":3,"x":6,"y":4.5},{"p":8,"s":3,"x":7,"y":3.5},{"p":8,"s":3,"x":8,"y":6.8},{"p":8,"s":3,"x":9,"y":2.7},
{"p":8,"s":4,"x":0,"y":6.0},{"p":8,"s":4,"x":1,"y":8.6},{"p":8,"s":4,"x":2,"y":3.5},{"p":8,"s":4,"x":3,"y":4.0},{"p":8,"s":4,"x":4,"y":3.0},{"p":8,"s":4,"x":5,"y":4.5},{"p":8,"s":4,"x":6,"y":3.0},{"p":8,"s":4,"x":7,"y":7.1},{"p":8,"s":4,"x":8,"y":7.3},{"p":8,"s":4,"x":9,"y":2.5},
{"p":8,"s":5,"x":0,"y":1.8},{"p":8,"s":5,"x":1,"y":1.0},{"p":8,"s":5,"x":2,"y":5.5},{"p":8,"s":5,"x":3,"y":6.9},{"p":8,"s":5,"x":4,"y":2.0},{"p":8,"s":5,"x":5,"y":2.5},{"p":8,"s":5,"x":6,"y":3.0},{"p":8,"s":5,"x":7,"y":4.5},{"p":8,"s":5,"x":8,"y":5.5},{"p":8,"s":5,"x":9,"y":5.4},
{"p":8,"s":6,"x":0,"y":5.0},{"p":8,"s":6,"x":1,"y":4.5},{"p":8,"s":6,"x":2,"y":3.0},{"p":8,"s":6,"x":3,"y":3.5},{"p":8,"s":6,"x":4,"y":7.8},{"p":8,"s":6,"x":5,"y":3.5},{"p":8,"s":6,"x":6,"y":7.8},{"p":8,"s":6,"x":7,"y":3.0},{"p":8,"s":6,"x":8,"y":2.5},{"p":8,"s":6,"x":9,"y":2.0},
{"p":8,"s":7,"x":0,"y":2.0},{"p":8,"s":7,"x":1,"y":11.5},{"p":8,"s":7,"x":2,"y":2.0},{"p":8,"s":7,"x":3,"y":2.5},{"p":8,"s":7,"x":4,"y":2.0},{"p":8,"s":7,"x":5,"y":3.0},{"p":8,"s":7,"x":6,"y":2.5},{"p":8,"s":7,"x":7,"y":2.0},{"p":8,"s":7,"x":8,"y":1.5},{"p":8,"s":7,"x":9,"y":11.2},
{"p":8,"s":8,"x":0,"y":2.2},{"p":8,"s":8,"x":1,"y":7.8},{"p":8,"s":8,"x":2,"y":8.4},{"p":8,"s":8,"x":3,"y":6.0},{"p":8,"s":8,"x":4,"y":4.0},{"p":8,"s":8,"x":5,"y":6.4},{"p":8,"s":8,"x":6,"y":2.5},{"p":8,"s":8,"x":7,"y":6.5},{"p":8,"s":8,"x":8,"y":3.0},{"p":8,"s":8,"x":9,"y":6.0},
{"p":8,"s":9,"x":0,"y":7.6},{"p":8,"s":9,"x":1,"y":3.5},{"p":8,"s":9,"x":2,"y":6.6},{"p":8,"s":9,"x":3,"y":2.5},{"p":8,"s":9,"x":4,"y":4.0},{"p":8,"s":9,"x":5,"y":1.5},{"p":8,"s":9,"x":6,"y":7.2},{"p":8,"s":9,"x":7,"y":0.5},{"p":8,"s":9,"x":8,"y":2.0},{"p":8,"s":9,"x":9,"y":6.3},
{"p":8,"s":10,"x":0,"y":3.0},{"p":8,"s":10,"x":1,"y":1.2},{"p":8,"s":10,"x":2,"y":1.0},{"p":8,"s":10,"x":3,"y":1.2},{"p":8,"s":10,"x":4,"y":1.0},{"p":8,"s":10,"x":5,"y":1.5},{"p":8,"s":10,"x":6,"y":1.0},{"p":8,"s":10,"x":7,"y":1.2},{"p":8,"s":10,"x":8,"y":1.5},{"p":8,"s":10,"x":9,"y":0.6},
{"p":8,"s":11,"x":0,"y":2.5},{"p":8,"s":11,"x":1,"y":2.0},{"p":8,"s":11,"x":2,"y":1.5},{"p":8,"s":11,"x":3,"y":1.8},{"p":8,"s":11,"x":4,"y":1.2},{"p":8,"s":11,"x":5,"y":0.5},{"p":8,"s":11,"x":6,"y":1.5},{"p":8,"s":11,"x":7,"y":0.1},{"p":8,"s":11,"x":8,"y":1.5},{"p":8,"s":11,"x":9,"y":2.0},
{"p":8,"s":12,"x":0,"y":4.8},{"p":8,"s":12,"x":1,"y":3.8},{"p":8,"s":12,"x":2,"y":3.6},{"p":8,"s":12,"x":3,"y":3.4},{"p":8,"s":12,"x":4,"y":3.8},{"p":8,"s":12,"x":5,"y":3.5},{"p":8,"s":12,"x":6,"y":3.8},{"p":8,"s":12,"x":7,"y":3.2},{"p":8,"s":12,"x":8,"y":3.4},{"p":8,"s":12,"x":9,"y":3.0},
{"p":8,"s":13,"x":0,"y":4.0},{"p":8,"s":13,"x":1,"y":3.0},{"p":8,"s":13,"x":2,"y":2.8},{"p":8,"s":13,"x":3,"y":3.0},{"p":8,"s":13,"x":4,"y":2.6},{"p":8,"s":13,"x":5,"y":2.8},{"p":8,"s":13,"x":6,"y":3.0},{"p":8,"s":13,"x":7,"y":2.6},{"p":8,"s":13,"x":8,"y":2.5},{"p":8,"s":13,"x":9,"y":2.4},
{"p":8,"s":14,"x":0,"y":3.2},{"p":8,"s":14,"x":1,"y":2.4},{"p":8,"s":14,"x":2,"y":2.2},{"p":8,"s":14,"x":3,"y":2.0},{"p":8,"s":14,"x":4,"y":2.4},{"p":8,"s":14,"x":5,"y":2.0},{"p":8,"s":14,"x":6,"y":2.2},{"p":8,"s":14,"x":7,"y":1.9},{"p":8,"s":14,"x":8,"y":2.0},{"p":8,"s":14,"x":9,"y":1.8},
{"p":8,"s":15,"x":0,"y":5.5},{"p":8,"s":15,"x":1,"y":4.5},{"p":8,"s":15,"x":2,"y":4.2},{"p":8,"s":15,"x":3,"y":4.0},{"p":8,"s":15,"x":4,"y":4.5},{"p":8,"s":15,"x":5,"y":4.2},{"p":8,"s":15,"x":6,"y":4.4},{"p":8,"s":15,"x":7,"y":4.0},{"p":8,"s":15,"x":8,"y":3.8},{"p":8,"s":15,"x":9,"y":3.6},
{"p":8,"s":16,"x":0,"y":2.6},{"p":8,"s":16,"x":1,"y":1.8},{"p":8,"s":16,"x":2,"y":1.6},{"p":8,"s":16,"x":3,"y":1.5},{"p":8,"s":16,"x":4,"y":1.7},{"p":8,"s":16,"x":5,"y":1.5},{"p":8,"s":16,"x":6,"y":1.6},{"p":8,"s":16,"x":7,"y":1.4},{"p":8,"s":16,"x":8,"y":1.5},{"p":8,"s":16,"x":9,"y":1.4},
{"p":8,"s":17,"x":0,"y":3.6},{"p":8,"s":17,"x":1,"y":3.2},{"p":8,"s":17,"x":2,"y":3.4},{"p":8,"s":17,"x":3,"y":2.8},{"p":8,"s":17,"x":4,"y":3.2},{"p":8,"s":17,"x":5,"y":3.0},{"p":8,"s":17,"x":6,"y":3.4},{"p":8,"s":17,"x":7,"y":2.8},{"p":8,"s":17,"x":8,"y":3.0},{"p":8,"s":17,"x":9,"y":2.6},
{"p":9,"s":0,"x":0,"y":6.2},{"p":9,"s":0,"x":1,"y":6.0},{"p":9,"s":0,"x":2,"y":9.0},{"p":9,"s":0,"x":3,"y":5.5},{"p":9,"s":0,"x":4,"y":5.5},{"p":9,"s":0,"x":5,"y":5.0},{"p":9,"s":0,"x":6,"y":6.6},{"p":9,"s":0,"x":7,"y":3.0},{"p":9,"s":0,"x":8,"y":5.5},{"p":9,"s":0,"x":9,"y":7.2},
{"p":9,"s":1,"x":0,"y":3.0},{"p":9,"s":1,"x":1,"y":1.0},{"p":9,"s":1,"x":2,"y":6.0},{"p":9,"s":1,"x":3,"y":7.3},{"p":9,"s":1,"x":4,"y":1.5},{"p":9,"s":1,"x":5,"y":8.4},{"p":9,"s":1,"x":6,"y":3.0},{"p":9,"s":1,"x":7,"y":1.5},{"p":9,"s":1,"x":8,"y":0.9},{"p":9,"s":1,"x":9,"y":6.5},
{"p":9,"s":2,"x":0,"y":8.1},{"p":9,"s":2,"x":1,"y":5.5},{"p":9,"s":2,"x":2,"y":6.9},{"p":9,"s":2,"x":3,"y":6.6},{"p":9,"s":2,"x":4,"y":7.0},{"p":9,"s":2,"x":5,"y":2.0},{"p":9,"s":2,"x":6,"y":0.3},{"p":9,"s":2,"x":7,"y":6.0},{"p":9,"s":2,"x":8,"y":2.0},{"p":9,"s":2,"x":9,"y":0.8},
{"p":9,"s":3,"x":0,"y":3.3},{"p":9,"s":3,"x":1,"y":3.8},{"p":9,"s":3,"x":2,"y":5.2},{"p":9,"s":3,"x":3,"y":2.0},{"p":9,"s":3,"x":4,"y":6.0},{"p":9,"s":3,"x":5,"y":5.3},{"p":9,"s":3,"x":6,"y":2.0},{"p":9,"s":3,"x":7,"y":4.5},{"p":9,"s":3,"x":8,"y":0.3},{"p":9,"s":3,"x":9,"y":7.8},
{"p":9,"s":4,"x":0,"y":7.0},{"p":9,"s":4,"x":1,"y":10.7},{"p":9,"s":4,"x":2,"y":4.5},{"p":9,"s":4,"x":3,"y":0.0},{"p":9,"s":4,"x":4,"y":4.0},{"p":9,"s":4,"x":5,"y":1.0},{"p":9,"s":4,"x":6,"y":2.5},{"p":9,"s":4,"x":7,"y":3.5},{"p":9,"s":4,"x":8,"y":1.5},{"p":9,"s":4,"x":9,"y":0.2},
{"p":9,"s":5,"x":0,"y":7.5},{"p":9,"s":5,"x":1,"y":2.5},{"p":9,"s":5,"x":2,"y":5.0},{"p":9,"s":5,"x":3,"y":1.5},{"p":9,"s":5,"x":4,"y":1.5},{"p":9,"s":5,"x":5,"y":4.5},{"p":9,"s":5,"x":6,"y":5.0},{"p":9,"s":5,"x":7,"y":2.5},{"p":9,"s":5,"x":8,"y":6.5},{"p":9,"s":5,"x":9,"y":2.0},
{"p":9,"s":6,"x":0,"y":6.6},{"p":9,"s":6,"x":1,"y":2.3},{"p":9,"s":6,"x":2,"y":3.0},{"p":9,"s":6,"x":3,"y":3.5},{"p":9,"s":6,"x":4,"y":7.2},{"p":9,"s":6,"x":5,"y":3.0},{"p":9,"s":6,"x":6,"y":2.5},{"p":9,"s":6,"x":7,"y":5.0},{"p":9,"s":6,"x":8,"y":7.4},{"p":9,"s":6,"x":9,"y":2.7},
{"p":9,"s":7,"x":0,"y":4.5},{"p":9,"s":7,"x":1,"y":7.8},{"p":9,"s":7,"x":2,"y":4.0},{"p":9,"s":7,"x":3,"y":3.5},{"p":9,"s":7,"x":4,"y":3.0},{"p":9,"s":7,"x":5,"y":7.3},{"p":9,"s":7,"x":6,"y":7.4},{"p":9,"s":7,"x":7,"y":1.5},{"p":9,"s":7,"x":8,"y":6.3},{"p":9,"s":7,"x":9,"y":4.0},
{"p":9,"s":8,"x":0,"y":5.5},{"p":9,"s":8,"x":1,"y":8.3},{"p":9,"s":8,"x":2,"y":2.0},{"p":9,"s":8,"x":3,"y":6.0},{"p":9,"s":8,"x":4,"y":2.0},{"p":9,"s":8,"x":5,"y":6.5},{"p":9,"s":8,"x":6,"y":1.5},{"p":9,"s":8,"x":7,"y":7.2},{"p":9,"s":8,"x":8,"y":1.5},{"p":9,"s":8,"x":9,"y":5.0},
{"p":9,"s":9,"x":0,"y":2.0},{"p":9,"s":9,"x":1,"y":9.8},{"p":9,"s":9,"x":2,"y":0.8},{"p":9,"s":9,"x":3,"y":0.3},{"p":9,"s":9,"x":4,"y":0.5},{"p":9,"s":9,"x":5,"y":9.1},{"p":9,"s":9,"x":6,"y":0.4},{"p":9,"s":9,"x":7,"y":0.3},{"p":9,"s":9,"x":8,"y":1.0},{"p":9,"s":9,"x":9,"y":0.2},
{"p":9,"s":10,"x":0,"y":2.2},{"p":9,"s":10,"x":1,"y":1.0},{"p":9,"s":10,"x":2,"y":1.5},{"p":9,"s":10,"x":3,"y":1.2},{"p":9,"s":10,"x":4,"y":1.0},{"p":9,"s":10,"x":5,"y":0.3},{"p":9,"s":10,"x":6,"y":1.2},{"p":9,"s":10,"x":7,"y":0.5},{"p":9,"s":10,"x":8,"y":1.0},{"p":9,"s":10,"x":9,"y":1.5},
{"p":9,"s":11,"x":0,"y":3.5},{"p":9,"s":11,"x":1,"y":2.8},{"p":9,"s":11,"x":2,"y":2.5},{"p":9,"s":11,"x":3,"y":2.0},{"p":9,"s":11,"x":4,"y":2.5},{"p":9,"s":11,"x":5,"y":2.0},{"p":9,"s":11,"x":6,"y":1.8},{"p":9,"s":11,"x":7,"y":2.0},{"p":9,"s":11,"x":8,"y":2.2},{"p":9,"s":11,"x":9,"y":1.0},
{"p":9,"s":12,"x":0,"y":4.8},{"p":9,"s":12,"x":1,"y":4.0},{"p":9,"s":12,"x":2,"y":3.8},{"p":9,"s":12,"x":3,"y":3.5},{"p":9,"s":12,"x":4,"y":4.0},{"p":9,"s":12,"x":5,"y":3.6},{"p":9,"s":12,"x":6,"y":3.8},{"p":9,"s":12,"x":7,"y":3.4},{"p":9,"s":12,"x":8,"y":3.5},{"p":9,"s":12,"x":9,"y":3.2},
{"p":9,"s":13,"x":0,"y":4.0},{"p":9,"s":13,"x":1,"y":3.2},{"p":9,"s":13,"x":2,"y":3.0},{"p":9,"s":13,"x":3,"y":2.8},{"p":9,"s":13,"x":4,"y":3.2},{"p":9,"s":13,"x":5,"y":2.8},{"p":9,"s":13,"x":6,"y":3.0},{"p":9,"s":13,"x":7,"y":2.6},{"p":9,"s":13,"x":8,"y":2.8},{"p":9,"s":13,"x":9,"y":2.5},
{"p":9,"s":14,"x":0,"y":3.2},{"p":9,"s":14,"x":1,"y":2.4},{"p":9,"s":14,"x":2,"y":2.2},{"p":9,"s":14,"x":3,"y":2.0},{"p":9,"s":14,"x":4,"y":2.4},{"p":9,"s":14,"x":5,"y":2.0},{"p":9,"s":14,"x":6,"y":2.2},{"p":9,"s":14,"x":7,"y":2.0},{"p":9,"s":14,"x":8,"y":2.0},{"p":9,"s":14,"x":9,"y":1.8},
{"p":9,"s":15,"x":0,"y":5.5},{"p":9,"s":15,"x":1,"y":4.6},{"p":9,"s":15,"x":2,"y":4.4},{"p":9,"s":15,"x":3,"y":4.2},{"p":9,"s":15,"x":4,"y":4.6},{"p":9,"s":15,"x":5,"y":4.3},{"p":9,"s":15,"x":6,"y":4.5},{"p":9,"s":15,"x":7,"y":4.0},{"p":9,"s":15,"x":8,"y":4.2},{"p":9,"s":15,"x":9,"y":3.8},
{"p":9,"s":16,"x":0,"y":2.6},{"p":9,"s":16,"x":1,"y":1.8},{"p":9,"s":16,"x":2,"y":1.6},{"p":9,"s":16,"x":3,"y":1.5},{"p":9,"s":16,"x":4,"y":1.6},{"p":9,"s":16,"x":5,"y":1.5},{"p":9,"s":16,"x":6,"y":1.6},{"p":9,"s":16,"x":7,"y":1.4},{"p":9,"s":16,"x":8,"y":1.5},{"p":9,"s":16,"x":9,"y":1.3},
{"p":9,"s":17,"x":0,"y":3.8},{"p":9,"s":17,"x":1,"y":3.5},{"p":9,"s":17,"x":2,"y":3.6},{"p":9,"s":17,"x":3,"y":3.0},{"p":9,"s":17,"x":4,"y":3.4},{"p":9,"s":17,"x":5,"y":3.2},{"p":9,"s":17,"x":6,"y":3.5},{"p":9,"s":17,"x":7,"y":3.0},{"p":9,"s":17,"x":8,"y":3.2},{"p":9,"s":17,"x":9,"y":2.8}
  ]},
  "columns": 5,
  "spacing": {"row": 67, "column": 51},
  "bounds": "flush",
  "facet": {
    "field": "p",
    "type": "ordinal",
    "header": {
      "title": null,
      "labelExpr": "'Label: ' + datum.value",
      "labelFont": "DejaVu Sans",
      "labelFontSize": 17,
      "labelColor": "black",
      "labelPadding": 8
    }
  },
  "spec": {
    "width": 281,
    "height": 277,
    "mark": {"type": "line", "strokeWidth": 2, "clip": true},
    "encoding": {
      "x": {
        "field": "x",
        "type": "quantitative",
        "scale": {"nice": false, "zero": false, "padding": 12.6},
        "axis": {"values": [0, 2, 4, 6, 8], "title": null}
      },
      "y": {
        "field": "y",
        "type": "quantitative",
        "scale": {"nice": false, "zero": false, "padding": 12.6},
        "axis": {"values": [0, 2, 4, 6, 8, 10, 12], "title": null}
      },
      "color": {
        "field": "s",
        "type": "nominal",
        "legend": null,
        "scale": {
          "domain": [0, 1, 2, 3, 4, 5, 6, 7, 8, 9, 10, 11, 12, 13, 14, 15, 16, 17],
          "range": ["#1f77b4", "#ff7f0e", "#2ca02c", "#d62728", "#9467bd", "#8c564b", "#e377c2", "#7f7f7f", "#bcbd22", "#17becf", "#1f77b4", "#ff7f0e", "#2ca02c", "#d62728", "#9467bd", "#8c564b", "#e377c2", "#7f7f7f"]
        }
      }
    }
  },
  "resolve": {
    "scale": {"x": "independent", "y": "independent"},
    "axis": {"x": "independent", "y": "independent"}
  },
  "config": {
    "view": {"stroke": "black", "strokeWidth": 1},
    "axis": {
      "domain": false,
      "grid": false,
      "ticks": true,
      "tickColor": "black",
      "tickSize": 5,
      "labelFont": "DejaVu Sans",
      "labelFontSize": 14,
      "labelColor": "black",
      "labelPadding": 3,
      "labelAngle": 0
    }
  }
}
